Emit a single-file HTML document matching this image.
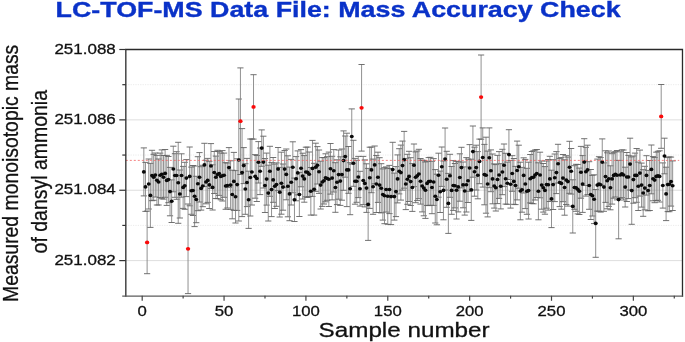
<!DOCTYPE html><html><head><meta charset="utf-8"><title>LC-TOF-MS Data File: Mass Accuracy Check</title>
<style>html,body{margin:0;padding:0;background:#fff}svg{display:block}text{font-family:"Liberation Sans",Arial,sans-serif}</style></head><body>
<svg width="685" height="342" viewBox="0 0 685 342">
<rect width="685" height="342" fill="#fff"/>
<text x="55.6" y="17.3" font-size="22.2" font-weight="bold" fill="#0a32c8" stroke="#0a32c8" stroke-width="0.35" textLength="565" lengthAdjust="spacingAndGlyphs">LC-TOF-MS Data File: Mass Accuracy Check</text>
<line x1="125.8" x2="682.5" y1="260.61" y2="260.61" stroke="#dedede" stroke-width="1"/>
<line x1="125.8" x2="682.5" y1="225.42" y2="225.42" stroke="#e6e6e6" stroke-width="0.8" stroke-dasharray="1.2 1.2"/>
<line x1="125.8" x2="682.5" y1="190.24" y2="190.24" stroke="#dedede" stroke-width="1"/>
<line x1="125.8" x2="682.5" y1="155.05" y2="155.05" stroke="#e6e6e6" stroke-width="0.8" stroke-dasharray="1.2 1.2"/>
<line x1="125.8" x2="682.5" y1="119.87" y2="119.87" stroke="#dedede" stroke-width="1"/>
<line x1="125.8" x2="682.5" y1="84.69" y2="84.69" stroke="#e6e6e6" stroke-width="0.8" stroke-dasharray="1.2 1.2"/>
<path d="M143.84 147.9V195.9" stroke="#858585" stroke-width="0.9" fill="none"/><path d="M140.74 147.9h6.2M140.74 195.9h6.2" stroke="#626262" stroke-width="0.9" fill="none"/>
<path d="M145.47 162.4V211.4" stroke="#858585" stroke-width="0.9" fill="none"/><path d="M142.37 162.4h6.2M142.37 211.4h6.2" stroke="#626262" stroke-width="0.9" fill="none"/>
<path d="M147.11 211.1V273.7" stroke="#858585" stroke-width="0.9" fill="none"/><path d="M144.01 211.1h6.2M144.01 273.7h6.2" stroke="#626262" stroke-width="0.9" fill="none"/>
<path d="M148.75 159.0V209.0" stroke="#858585" stroke-width="0.9" fill="none"/><path d="M145.65 159.0h6.2M145.65 209.0h6.2" stroke="#626262" stroke-width="0.9" fill="none"/>
<path d="M150.39 163.4V227.4" stroke="#858585" stroke-width="0.9" fill="none"/><path d="M147.29 163.4h6.2M147.29 227.4h6.2" stroke="#626262" stroke-width="0.9" fill="none"/>
<path d="M152.02 150.3V200.7" stroke="#858585" stroke-width="0.9" fill="none"/><path d="M148.92 150.3h6.2M148.92 200.7h6.2" stroke="#626262" stroke-width="0.9" fill="none"/>
<path d="M153.66 154.3V200.3" stroke="#858585" stroke-width="0.9" fill="none"/><path d="M150.56 154.3h6.2M150.56 200.3h6.2" stroke="#626262" stroke-width="0.9" fill="none"/>
<path d="M155.30 153.0V197.0" stroke="#858585" stroke-width="0.9" fill="none"/><path d="M152.20 153.0h6.2M152.20 197.0h6.2" stroke="#626262" stroke-width="0.9" fill="none"/>
<path d="M156.93 155.4V205.0" stroke="#858585" stroke-width="0.9" fill="none"/><path d="M153.83 155.4h6.2M153.83 205.0h6.2" stroke="#626262" stroke-width="0.9" fill="none"/>
<path d="M158.57 159.0V205.0" stroke="#858585" stroke-width="0.9" fill="none"/><path d="M155.47 159.0h6.2M155.47 205.0h6.2" stroke="#626262" stroke-width="0.9" fill="none"/>
<path d="M160.21 153.1V197.5" stroke="#858585" stroke-width="0.9" fill="none"/><path d="M157.11 153.1h6.2M157.11 197.5h6.2" stroke="#626262" stroke-width="0.9" fill="none"/>
<path d="M161.85 149.9V198.7" stroke="#858585" stroke-width="0.9" fill="none"/><path d="M158.75 149.9h6.2M158.75 198.7h6.2" stroke="#626262" stroke-width="0.9" fill="none"/>
<path d="M163.48 155.5V199.1" stroke="#858585" stroke-width="0.9" fill="none"/><path d="M160.38 155.5h6.2M160.38 199.1h6.2" stroke="#626262" stroke-width="0.9" fill="none"/>
<path d="M165.12 149.5V197.3" stroke="#858585" stroke-width="0.9" fill="none"/><path d="M162.02 149.5h6.2M162.02 197.3h6.2" stroke="#626262" stroke-width="0.9" fill="none"/>
<path d="M166.76 155.4V205.4" stroke="#858585" stroke-width="0.9" fill="none"/><path d="M163.66 155.4h6.2M163.66 205.4h6.2" stroke="#626262" stroke-width="0.9" fill="none"/>
<path d="M168.40 156.5V202.7" stroke="#858585" stroke-width="0.9" fill="none"/><path d="M165.30 156.5h6.2M165.30 202.7h6.2" stroke="#626262" stroke-width="0.9" fill="none"/>
<path d="M170.03 167.4V215.8" stroke="#858585" stroke-width="0.9" fill="none"/><path d="M166.93 167.4h6.2M166.93 215.8h6.2" stroke="#626262" stroke-width="0.9" fill="none"/>
<path d="M171.67 179.9V222.5" stroke="#858585" stroke-width="0.9" fill="none"/><path d="M168.57 179.9h6.2M168.57 222.5h6.2" stroke="#626262" stroke-width="0.9" fill="none"/>
<path d="M173.31 146.2V191.8" stroke="#858585" stroke-width="0.9" fill="none"/><path d="M170.21 146.2h6.2M170.21 191.8h6.2" stroke="#626262" stroke-width="0.9" fill="none"/>
<path d="M174.94 153.7V197.3" stroke="#858585" stroke-width="0.9" fill="none"/><path d="M171.84 153.7h6.2M171.84 197.3h6.2" stroke="#626262" stroke-width="0.9" fill="none"/>
<path d="M176.58 151.7V199.3" stroke="#858585" stroke-width="0.9" fill="none"/><path d="M173.48 151.7h6.2M173.48 199.3h6.2" stroke="#626262" stroke-width="0.9" fill="none"/>
<path d="M178.22 142.3V223.3" stroke="#858585" stroke-width="0.9" fill="none"/><path d="M175.12 142.3h6.2M175.12 223.3h6.2" stroke="#626262" stroke-width="0.9" fill="none"/>
<path d="M179.86 170.0V218.0" stroke="#858585" stroke-width="0.9" fill="none"/><path d="M176.76 170.0h6.2M176.76 218.0h6.2" stroke="#626262" stroke-width="0.9" fill="none"/>
<path d="M181.49 153.8V197.2" stroke="#858585" stroke-width="0.9" fill="none"/><path d="M178.39 153.8h6.2M178.39 197.2h6.2" stroke="#626262" stroke-width="0.9" fill="none"/>
<path d="M183.13 166.4V208.4" stroke="#858585" stroke-width="0.9" fill="none"/><path d="M180.03 166.4h6.2M180.03 208.4h6.2" stroke="#626262" stroke-width="0.9" fill="none"/>
<path d="M184.77 162.3V209.3" stroke="#858585" stroke-width="0.9" fill="none"/><path d="M181.67 162.3h6.2M181.67 209.3h6.2" stroke="#626262" stroke-width="0.9" fill="none"/>
<path d="M186.40 159.6V196.6" stroke="#858585" stroke-width="0.9" fill="none"/><path d="M183.30 159.6h6.2M183.30 196.6h6.2" stroke="#626262" stroke-width="0.9" fill="none"/>
<path d="M188.04 204.0V293.6" stroke="#858585" stroke-width="0.9" fill="none"/><path d="M184.94 204.0h6.2M184.94 293.6h6.2" stroke="#626262" stroke-width="0.9" fill="none"/>
<path d="M189.68 147.0V205.8" stroke="#858585" stroke-width="0.9" fill="none"/><path d="M186.58 147.0h6.2M186.58 205.8h6.2" stroke="#626262" stroke-width="0.9" fill="none"/>
<path d="M191.32 167.1V214.3" stroke="#858585" stroke-width="0.9" fill="none"/><path d="M188.22 167.1h6.2M188.22 214.3h6.2" stroke="#626262" stroke-width="0.9" fill="none"/>
<path d="M192.95 165.5V215.5" stroke="#858585" stroke-width="0.9" fill="none"/><path d="M189.85 165.5h6.2M189.85 215.5h6.2" stroke="#626262" stroke-width="0.9" fill="none"/>
<path d="M194.59 166.0V226.6" stroke="#858585" stroke-width="0.9" fill="none"/><path d="M191.49 166.0h6.2M191.49 226.6h6.2" stroke="#626262" stroke-width="0.9" fill="none"/>
<path d="M196.23 176.3V222.7" stroke="#858585" stroke-width="0.9" fill="none"/><path d="M193.13 176.3h6.2M193.13 222.7h6.2" stroke="#626262" stroke-width="0.9" fill="none"/>
<path d="M197.86 156.7V210.7" stroke="#858585" stroke-width="0.9" fill="none"/><path d="M194.76 156.7h6.2M194.76 210.7h6.2" stroke="#626262" stroke-width="0.9" fill="none"/>
<path d="M199.50 152.6V202.0" stroke="#858585" stroke-width="0.9" fill="none"/><path d="M196.40 152.6h6.2M196.40 202.0h6.2" stroke="#626262" stroke-width="0.9" fill="none"/>
<path d="M201.14 166.7V210.1" stroke="#858585" stroke-width="0.9" fill="none"/><path d="M198.04 166.7h6.2M198.04 210.1h6.2" stroke="#626262" stroke-width="0.9" fill="none"/>
<path d="M202.78 165.3V206.7" stroke="#858585" stroke-width="0.9" fill="none"/><path d="M199.68 165.3h6.2M199.68 206.7h6.2" stroke="#626262" stroke-width="0.9" fill="none"/>
<path d="M204.41 143.3V186.5" stroke="#858585" stroke-width="0.9" fill="none"/><path d="M201.31 143.3h6.2M201.31 186.5h6.2" stroke="#626262" stroke-width="0.9" fill="none"/>
<path d="M206.05 160.2V203.8" stroke="#858585" stroke-width="0.9" fill="none"/><path d="M202.95 160.2h6.2M202.95 203.8h6.2" stroke="#626262" stroke-width="0.9" fill="none"/>
<path d="M207.69 158.4V202.4" stroke="#858585" stroke-width="0.9" fill="none"/><path d="M204.59 158.4h6.2M204.59 202.4h6.2" stroke="#626262" stroke-width="0.9" fill="none"/>
<path d="M209.33 161.3V208.5" stroke="#858585" stroke-width="0.9" fill="none"/><path d="M206.23 161.3h6.2M206.23 208.5h6.2" stroke="#626262" stroke-width="0.9" fill="none"/>
<path d="M210.96 143.6V188.4" stroke="#858585" stroke-width="0.9" fill="none"/><path d="M207.86 143.6h6.2M207.86 188.4h6.2" stroke="#626262" stroke-width="0.9" fill="none"/>
<path d="M212.60 164.8V210.0" stroke="#858585" stroke-width="0.9" fill="none"/><path d="M209.50 164.8h6.2M209.50 210.0h6.2" stroke="#626262" stroke-width="0.9" fill="none"/>
<path d="M214.24 151.5V193.5" stroke="#858585" stroke-width="0.9" fill="none"/><path d="M211.14 151.5h6.2M211.14 193.5h6.2" stroke="#626262" stroke-width="0.9" fill="none"/>
<path d="M215.87 156.1V198.5" stroke="#858585" stroke-width="0.9" fill="none"/><path d="M212.77 156.1h6.2M212.77 198.5h6.2" stroke="#626262" stroke-width="0.9" fill="none"/>
<path d="M217.51 150.3V198.7" stroke="#858585" stroke-width="0.9" fill="none"/><path d="M214.41 150.3h6.2M214.41 198.7h6.2" stroke="#626262" stroke-width="0.9" fill="none"/>
<path d="M219.15 151.6V195.4" stroke="#858585" stroke-width="0.9" fill="none"/><path d="M216.05 151.6h6.2M216.05 195.4h6.2" stroke="#626262" stroke-width="0.9" fill="none"/>
<path d="M220.79 153.0V199.8" stroke="#858585" stroke-width="0.9" fill="none"/><path d="M217.69 153.0h6.2M217.69 199.8h6.2" stroke="#626262" stroke-width="0.9" fill="none"/>
<path d="M222.42 150.6V201.0" stroke="#858585" stroke-width="0.9" fill="none"/><path d="M219.32 150.6h6.2M219.32 201.0h6.2" stroke="#626262" stroke-width="0.9" fill="none"/>
<path d="M224.06 153.1V197.3" stroke="#858585" stroke-width="0.9" fill="none"/><path d="M220.96 153.1h6.2M220.96 197.3h6.2" stroke="#626262" stroke-width="0.9" fill="none"/>
<path d="M225.70 162.7V209.3" stroke="#858585" stroke-width="0.9" fill="none"/><path d="M222.60 162.7h6.2M222.60 209.3h6.2" stroke="#626262" stroke-width="0.9" fill="none"/>
<path d="M227.33 163.0V208.0" stroke="#858585" stroke-width="0.9" fill="none"/><path d="M224.23 163.0h6.2M224.23 208.0h6.2" stroke="#626262" stroke-width="0.9" fill="none"/>
<path d="M228.97 147.6V187.6" stroke="#858585" stroke-width="0.9" fill="none"/><path d="M225.87 147.6h6.2M225.87 187.6h6.2" stroke="#626262" stroke-width="0.9" fill="none"/>
<path d="M230.61 160.8V209.4" stroke="#858585" stroke-width="0.9" fill="none"/><path d="M227.51 160.8h6.2M227.51 209.4h6.2" stroke="#626262" stroke-width="0.9" fill="none"/>
<path d="M232.25 170.2V218.8" stroke="#858585" stroke-width="0.9" fill="none"/><path d="M229.15 170.2h6.2M229.15 218.8h6.2" stroke="#626262" stroke-width="0.9" fill="none"/>
<path d="M233.88 152.4V210.4" stroke="#858585" stroke-width="0.9" fill="none"/><path d="M230.78 152.4h6.2M230.78 210.4h6.2" stroke="#626262" stroke-width="0.9" fill="none"/>
<path d="M235.52 170.6V223.0" stroke="#858585" stroke-width="0.9" fill="none"/><path d="M232.42 170.6h6.2M232.42 223.0h6.2" stroke="#626262" stroke-width="0.9" fill="none"/>
<path d="M237.16 158.8V210.4" stroke="#858585" stroke-width="0.9" fill="none"/><path d="M234.06 158.8h6.2M234.06 210.4h6.2" stroke="#626262" stroke-width="0.9" fill="none"/>
<path d="M238.79 99.0V221.0" stroke="#858585" stroke-width="0.9" fill="none"/><path d="M235.69 99.0h6.2M235.69 221.0h6.2" stroke="#626262" stroke-width="0.9" fill="none"/>
<path d="M240.43 67.9V174.5" stroke="#858585" stroke-width="0.9" fill="none"/><path d="M237.33 67.9h6.2M237.33 174.5h6.2" stroke="#626262" stroke-width="0.9" fill="none"/>
<path d="M242.07 128.6V216.6" stroke="#858585" stroke-width="0.9" fill="none"/><path d="M238.97 128.6h6.2M238.97 216.6h6.2" stroke="#626262" stroke-width="0.9" fill="none"/>
<path d="M243.71 147.6V183.6" stroke="#858585" stroke-width="0.9" fill="none"/><path d="M240.61 147.6h6.2M240.61 183.6h6.2" stroke="#626262" stroke-width="0.9" fill="none"/>
<path d="M245.34 163.7V214.3" stroke="#858585" stroke-width="0.9" fill="none"/><path d="M242.24 163.7h6.2M242.24 214.3h6.2" stroke="#626262" stroke-width="0.9" fill="none"/>
<path d="M246.98 158.4V206.6" stroke="#858585" stroke-width="0.9" fill="none"/><path d="M243.88 158.4h6.2M243.88 206.6h6.2" stroke="#626262" stroke-width="0.9" fill="none"/>
<path d="M248.62 171.2V228.4" stroke="#858585" stroke-width="0.9" fill="none"/><path d="M245.52 171.2h6.2M245.52 228.4h6.2" stroke="#626262" stroke-width="0.9" fill="none"/>
<path d="M250.26 139.0V216.0" stroke="#858585" stroke-width="0.9" fill="none"/><path d="M247.16 139.0h6.2M247.16 216.0h6.2" stroke="#626262" stroke-width="0.9" fill="none"/>
<path d="M251.89 139.0V205.0" stroke="#858585" stroke-width="0.9" fill="none"/><path d="M248.79 139.0h6.2M248.79 205.0h6.2" stroke="#626262" stroke-width="0.9" fill="none"/>
<path d="M253.53 74.7V139.1" stroke="#858585" stroke-width="0.9" fill="none"/><path d="M250.43 74.7h6.2M250.43 139.1h6.2" stroke="#626262" stroke-width="0.9" fill="none"/>
<path d="M255.17 154.6V198.2" stroke="#858585" stroke-width="0.9" fill="none"/><path d="M252.07 154.6h6.2M252.07 198.2h6.2" stroke="#626262" stroke-width="0.9" fill="none"/>
<path d="M256.80 155.5V201.5" stroke="#858585" stroke-width="0.9" fill="none"/><path d="M253.70 155.5h6.2M253.70 201.5h6.2" stroke="#626262" stroke-width="0.9" fill="none"/>
<path d="M258.44 141.6V183.0" stroke="#858585" stroke-width="0.9" fill="none"/><path d="M255.34 141.6h6.2M255.34 183.0h6.2" stroke="#626262" stroke-width="0.9" fill="none"/>
<path d="M260.08 148.0V194.6" stroke="#858585" stroke-width="0.9" fill="none"/><path d="M256.98 148.0h6.2M256.98 194.6h6.2" stroke="#626262" stroke-width="0.9" fill="none"/>
<path d="M261.72 129.9V166.3" stroke="#858585" stroke-width="0.9" fill="none"/><path d="M258.62 129.9h6.2M258.62 166.3h6.2" stroke="#626262" stroke-width="0.9" fill="none"/>
<path d="M263.35 136.2V188.0" stroke="#858585" stroke-width="0.9" fill="none"/><path d="M260.25 136.2h6.2M260.25 188.0h6.2" stroke="#626262" stroke-width="0.9" fill="none"/>
<path d="M264.99 158.5V212.5" stroke="#858585" stroke-width="0.9" fill="none"/><path d="M261.89 158.5h6.2M261.89 212.5h6.2" stroke="#626262" stroke-width="0.9" fill="none"/>
<path d="M266.63 153.1V205.1" stroke="#858585" stroke-width="0.9" fill="none"/><path d="M263.53 153.1h6.2M263.53 205.1h6.2" stroke="#626262" stroke-width="0.9" fill="none"/>
<path d="M268.26 165.2V221.0" stroke="#858585" stroke-width="0.9" fill="none"/><path d="M265.16 165.2h6.2M265.16 221.0h6.2" stroke="#626262" stroke-width="0.9" fill="none"/>
<path d="M269.90 146.3V196.3" stroke="#858585" stroke-width="0.9" fill="none"/><path d="M266.80 146.3h6.2M266.80 196.3h6.2" stroke="#626262" stroke-width="0.9" fill="none"/>
<path d="M271.54 162.6V216.6" stroke="#858585" stroke-width="0.9" fill="none"/><path d="M268.44 162.6h6.2M268.44 216.6h6.2" stroke="#626262" stroke-width="0.9" fill="none"/>
<path d="M273.18 157.5V202.3" stroke="#858585" stroke-width="0.9" fill="none"/><path d="M270.08 157.5h6.2M270.08 202.3h6.2" stroke="#626262" stroke-width="0.9" fill="none"/>
<path d="M274.81 164.1V208.5" stroke="#858585" stroke-width="0.9" fill="none"/><path d="M271.71 164.1h6.2M271.71 208.5h6.2" stroke="#626262" stroke-width="0.9" fill="none"/>
<path d="M276.45 162.9V206.3" stroke="#858585" stroke-width="0.9" fill="none"/><path d="M273.35 162.9h6.2M273.35 206.3h6.2" stroke="#626262" stroke-width="0.9" fill="none"/>
<path d="M278.09 147.5V190.7" stroke="#858585" stroke-width="0.9" fill="none"/><path d="M274.99 147.5h6.2M274.99 190.7h6.2" stroke="#626262" stroke-width="0.9" fill="none"/>
<path d="M279.72 167.4V217.0" stroke="#858585" stroke-width="0.9" fill="none"/><path d="M276.62 167.4h6.2M276.62 217.0h6.2" stroke="#626262" stroke-width="0.9" fill="none"/>
<path d="M281.36 152.2V214.2" stroke="#858585" stroke-width="0.9" fill="none"/><path d="M278.26 152.2h6.2M278.26 214.2h6.2" stroke="#626262" stroke-width="0.9" fill="none"/>
<path d="M283.00 164.0V210.2" stroke="#858585" stroke-width="0.9" fill="none"/><path d="M279.90 164.0h6.2M279.90 210.2h6.2" stroke="#626262" stroke-width="0.9" fill="none"/>
<path d="M284.64 150.5V187.7" stroke="#858585" stroke-width="0.9" fill="none"/><path d="M281.54 150.5h6.2M281.54 187.7h6.2" stroke="#626262" stroke-width="0.9" fill="none"/>
<path d="M286.27 149.0V199.8" stroke="#858585" stroke-width="0.9" fill="none"/><path d="M283.17 149.0h6.2M283.17 199.8h6.2" stroke="#626262" stroke-width="0.9" fill="none"/>
<path d="M287.91 155.8V216.8" stroke="#858585" stroke-width="0.9" fill="none"/><path d="M284.81 155.8h6.2M284.81 216.8h6.2" stroke="#626262" stroke-width="0.9" fill="none"/>
<path d="M289.55 167.1V220.7" stroke="#858585" stroke-width="0.9" fill="none"/><path d="M286.45 167.1h6.2M286.45 220.7h6.2" stroke="#626262" stroke-width="0.9" fill="none"/>
<path d="M291.19 159.4V205.0" stroke="#858585" stroke-width="0.9" fill="none"/><path d="M288.09 159.4h6.2M288.09 205.0h6.2" stroke="#626262" stroke-width="0.9" fill="none"/>
<path d="M292.82 141.8V192.8" stroke="#858585" stroke-width="0.9" fill="none"/><path d="M289.72 141.8h6.2M289.72 192.8h6.2" stroke="#626262" stroke-width="0.9" fill="none"/>
<path d="M294.46 178.1V221.5" stroke="#858585" stroke-width="0.9" fill="none"/><path d="M291.36 178.1h6.2M291.36 221.5h6.2" stroke="#626262" stroke-width="0.9" fill="none"/>
<path d="M296.10 156.6V200.8" stroke="#858585" stroke-width="0.9" fill="none"/><path d="M293.00 156.6h6.2M293.00 200.8h6.2" stroke="#626262" stroke-width="0.9" fill="none"/>
<path d="M297.73 150.9V194.9" stroke="#858585" stroke-width="0.9" fill="none"/><path d="M294.63 150.9h6.2M294.63 194.9h6.2" stroke="#626262" stroke-width="0.9" fill="none"/>
<path d="M299.37 172.5V216.5" stroke="#858585" stroke-width="0.9" fill="none"/><path d="M296.27 172.5h6.2M296.27 216.5h6.2" stroke="#626262" stroke-width="0.9" fill="none"/>
<path d="M301.01 149.6V186.8" stroke="#858585" stroke-width="0.9" fill="none"/><path d="M297.91 149.6h6.2M297.91 186.8h6.2" stroke="#626262" stroke-width="0.9" fill="none"/>
<path d="M302.65 153.2V199.0" stroke="#858585" stroke-width="0.9" fill="none"/><path d="M299.55 153.2h6.2M299.55 199.0h6.2" stroke="#626262" stroke-width="0.9" fill="none"/>
<path d="M304.28 155.6V202.2" stroke="#858585" stroke-width="0.9" fill="none"/><path d="M301.18 155.6h6.2M301.18 202.2h6.2" stroke="#626262" stroke-width="0.9" fill="none"/>
<path d="M305.92 147.2V196.8" stroke="#858585" stroke-width="0.9" fill="none"/><path d="M302.82 147.2h6.2M302.82 196.8h6.2" stroke="#626262" stroke-width="0.9" fill="none"/>
<path d="M307.56 147.1V197.5" stroke="#858585" stroke-width="0.9" fill="none"/><path d="M304.46 147.1h6.2M304.46 197.5h6.2" stroke="#626262" stroke-width="0.9" fill="none"/>
<path d="M309.19 152.0V196.6" stroke="#858585" stroke-width="0.9" fill="none"/><path d="M306.09 152.0h6.2M306.09 196.6h6.2" stroke="#626262" stroke-width="0.9" fill="none"/>
<path d="M310.83 167.5V215.1" stroke="#858585" stroke-width="0.9" fill="none"/><path d="M307.73 167.5h6.2M307.73 215.1h6.2" stroke="#626262" stroke-width="0.9" fill="none"/>
<path d="M312.47 140.4V196.4" stroke="#858585" stroke-width="0.9" fill="none"/><path d="M309.37 140.4h6.2M309.37 196.4h6.2" stroke="#626262" stroke-width="0.9" fill="none"/>
<path d="M314.11 163.3V215.1" stroke="#858585" stroke-width="0.9" fill="none"/><path d="M311.01 163.3h6.2M311.01 215.1h6.2" stroke="#626262" stroke-width="0.9" fill="none"/>
<path d="M315.74 143.2V191.4" stroke="#858585" stroke-width="0.9" fill="none"/><path d="M312.64 143.2h6.2M312.64 191.4h6.2" stroke="#626262" stroke-width="0.9" fill="none"/>
<path d="M317.38 146.6V184.0" stroke="#858585" stroke-width="0.9" fill="none"/><path d="M314.28 146.6h6.2M314.28 184.0h6.2" stroke="#626262" stroke-width="0.9" fill="none"/>
<path d="M319.02 150.0V193.4" stroke="#858585" stroke-width="0.9" fill="none"/><path d="M315.92 150.0h6.2M315.92 193.4h6.2" stroke="#626262" stroke-width="0.9" fill="none"/>
<path d="M320.65 161.2V209.0" stroke="#858585" stroke-width="0.9" fill="none"/><path d="M317.55 161.2h6.2M317.55 209.0h6.2" stroke="#626262" stroke-width="0.9" fill="none"/>
<path d="M322.29 157.6V206.4" stroke="#858585" stroke-width="0.9" fill="none"/><path d="M319.19 157.6h6.2M319.19 206.4h6.2" stroke="#626262" stroke-width="0.9" fill="none"/>
<path d="M323.93 157.6V204.0" stroke="#858585" stroke-width="0.9" fill="none"/><path d="M320.83 157.6h6.2M320.83 204.0h6.2" stroke="#626262" stroke-width="0.9" fill="none"/>
<path d="M325.57 153.8V201.8" stroke="#858585" stroke-width="0.9" fill="none"/><path d="M322.47 153.8h6.2M322.47 201.8h6.2" stroke="#626262" stroke-width="0.9" fill="none"/>
<path d="M327.20 156.7V200.3" stroke="#858585" stroke-width="0.9" fill="none"/><path d="M324.10 156.7h6.2M324.10 200.3h6.2" stroke="#626262" stroke-width="0.9" fill="none"/>
<path d="M328.84 152.1V206.5" stroke="#858585" stroke-width="0.9" fill="none"/><path d="M325.74 152.1h6.2M325.74 206.5h6.2" stroke="#626262" stroke-width="0.9" fill="none"/>
<path d="M330.48 143.5V194.1" stroke="#858585" stroke-width="0.9" fill="none"/><path d="M327.38 143.5h6.2M327.38 194.1h6.2" stroke="#626262" stroke-width="0.9" fill="none"/>
<path d="M332.12 156.3V199.9" stroke="#858585" stroke-width="0.9" fill="none"/><path d="M329.02 156.3h6.2M329.02 199.9h6.2" stroke="#626262" stroke-width="0.9" fill="none"/>
<path d="M333.75 149.6V192.0" stroke="#858585" stroke-width="0.9" fill="none"/><path d="M330.65 149.6h6.2M330.65 192.0h6.2" stroke="#626262" stroke-width="0.9" fill="none"/>
<path d="M335.39 162.7V212.3" stroke="#858585" stroke-width="0.9" fill="none"/><path d="M332.29 162.7h6.2M332.29 212.3h6.2" stroke="#626262" stroke-width="0.9" fill="none"/>
<path d="M337.03 159.8V204.6" stroke="#858585" stroke-width="0.9" fill="none"/><path d="M333.93 159.8h6.2M333.93 204.6h6.2" stroke="#626262" stroke-width="0.9" fill="none"/>
<path d="M338.66 150.0V199.2" stroke="#858585" stroke-width="0.9" fill="none"/><path d="M335.56 150.0h6.2M335.56 199.2h6.2" stroke="#626262" stroke-width="0.9" fill="none"/>
<path d="M340.30 156.8V205.4" stroke="#858585" stroke-width="0.9" fill="none"/><path d="M337.20 156.8h6.2M337.20 205.4h6.2" stroke="#626262" stroke-width="0.9" fill="none"/>
<path d="M341.94 149.0V200.2" stroke="#858585" stroke-width="0.9" fill="none"/><path d="M338.84 149.0h6.2M338.84 200.2h6.2" stroke="#626262" stroke-width="0.9" fill="none"/>
<path d="M343.58 130.9V190.3" stroke="#858585" stroke-width="0.9" fill="none"/><path d="M340.48 130.9h6.2M340.48 190.3h6.2" stroke="#626262" stroke-width="0.9" fill="none"/>
<path d="M345.21 136.0V177.2" stroke="#858585" stroke-width="0.9" fill="none"/><path d="M342.11 136.0h6.2M342.11 177.2h6.2" stroke="#626262" stroke-width="0.9" fill="none"/>
<path d="M346.85 133.2V206.6" stroke="#858585" stroke-width="0.9" fill="none"/><path d="M343.75 133.2h6.2M343.75 206.6h6.2" stroke="#626262" stroke-width="0.9" fill="none"/>
<path d="M348.49 146.5V193.3" stroke="#858585" stroke-width="0.9" fill="none"/><path d="M345.39 146.5h6.2M345.39 193.3h6.2" stroke="#626262" stroke-width="0.9" fill="none"/>
<path d="M350.12 162.7V214.7" stroke="#858585" stroke-width="0.9" fill="none"/><path d="M347.02 162.7h6.2M347.02 214.7h6.2" stroke="#626262" stroke-width="0.9" fill="none"/>
<path d="M351.76 108.9V164.1" stroke="#858585" stroke-width="0.9" fill="none"/><path d="M348.66 108.9h6.2M348.66 164.1h6.2" stroke="#626262" stroke-width="0.9" fill="none"/>
<path d="M353.40 140.3V186.3" stroke="#858585" stroke-width="0.9" fill="none"/><path d="M350.30 140.3h6.2M350.30 186.3h6.2" stroke="#626262" stroke-width="0.9" fill="none"/>
<path d="M355.04 158.4V204.2" stroke="#858585" stroke-width="0.9" fill="none"/><path d="M351.94 158.4h6.2M351.94 204.2h6.2" stroke="#626262" stroke-width="0.9" fill="none"/>
<path d="M356.67 160.3V202.3" stroke="#858585" stroke-width="0.9" fill="none"/><path d="M353.57 160.3h6.2M353.57 202.3h6.2" stroke="#626262" stroke-width="0.9" fill="none"/>
<path d="M358.31 156.4V197.6" stroke="#858585" stroke-width="0.9" fill="none"/><path d="M355.21 156.4h6.2M355.21 197.6h6.2" stroke="#626262" stroke-width="0.9" fill="none"/>
<path d="M359.95 171.3V206.1" stroke="#858585" stroke-width="0.9" fill="none"/><path d="M356.85 171.3h6.2M356.85 206.1h6.2" stroke="#626262" stroke-width="0.9" fill="none"/>
<path d="M361.58 64.5V151.1" stroke="#858585" stroke-width="0.9" fill="none"/><path d="M358.48 64.5h6.2M358.48 151.1h6.2" stroke="#626262" stroke-width="0.9" fill="none"/>
<path d="M363.22 156.4V204.6" stroke="#858585" stroke-width="0.9" fill="none"/><path d="M360.12 156.4h6.2M360.12 204.6h6.2" stroke="#626262" stroke-width="0.9" fill="none"/>
<path d="M364.86 159.9V206.9" stroke="#858585" stroke-width="0.9" fill="none"/><path d="M361.76 159.9h6.2M361.76 206.9h6.2" stroke="#626262" stroke-width="0.9" fill="none"/>
<path d="M366.50 163.8V212.4" stroke="#858585" stroke-width="0.9" fill="none"/><path d="M363.40 163.8h6.2M363.40 212.4h6.2" stroke="#626262" stroke-width="0.9" fill="none"/>
<path d="M368.13 168.4V240.4" stroke="#858585" stroke-width="0.9" fill="none"/><path d="M365.03 168.4h6.2M365.03 240.4h6.2" stroke="#626262" stroke-width="0.9" fill="none"/>
<path d="M369.77 147.2V208.4" stroke="#858585" stroke-width="0.9" fill="none"/><path d="M366.67 147.2h6.2M366.67 208.4h6.2" stroke="#626262" stroke-width="0.9" fill="none"/>
<path d="M371.41 147.1V192.7" stroke="#858585" stroke-width="0.9" fill="none"/><path d="M368.31 147.1h6.2M368.31 192.7h6.2" stroke="#626262" stroke-width="0.9" fill="none"/>
<path d="M373.05 159.1V214.3" stroke="#858585" stroke-width="0.9" fill="none"/><path d="M369.95 159.1h6.2M369.95 214.3h6.2" stroke="#626262" stroke-width="0.9" fill="none"/>
<path d="M374.68 146.0V183.8" stroke="#858585" stroke-width="0.9" fill="none"/><path d="M371.58 146.0h6.2M371.58 183.8h6.2" stroke="#626262" stroke-width="0.9" fill="none"/>
<path d="M376.32 155.5V212.5" stroke="#858585" stroke-width="0.9" fill="none"/><path d="M373.22 155.5h6.2M373.22 212.5h6.2" stroke="#626262" stroke-width="0.9" fill="none"/>
<path d="M377.96 152.2V202.4" stroke="#858585" stroke-width="0.9" fill="none"/><path d="M374.86 152.2h6.2M374.86 202.4h6.2" stroke="#626262" stroke-width="0.9" fill="none"/>
<path d="M379.59 157.7V212.5" stroke="#858585" stroke-width="0.9" fill="none"/><path d="M376.49 157.7h6.2M376.49 212.5h6.2" stroke="#626262" stroke-width="0.9" fill="none"/>
<path d="M381.23 163.7V212.9" stroke="#858585" stroke-width="0.9" fill="none"/><path d="M378.13 163.7h6.2M378.13 212.9h6.2" stroke="#626262" stroke-width="0.9" fill="none"/>
<path d="M382.87 168.9V220.1" stroke="#858585" stroke-width="0.9" fill="none"/><path d="M379.77 168.9h6.2M379.77 220.1h6.2" stroke="#626262" stroke-width="0.9" fill="none"/>
<path d="M384.51 167.7V223.7" stroke="#858585" stroke-width="0.9" fill="none"/><path d="M381.41 167.7h6.2M381.41 223.7h6.2" stroke="#626262" stroke-width="0.9" fill="none"/>
<path d="M386.14 166.9V212.1" stroke="#858585" stroke-width="0.9" fill="none"/><path d="M383.04 166.9h6.2M383.04 212.1h6.2" stroke="#626262" stroke-width="0.9" fill="none"/>
<path d="M387.78 168.3V224.3" stroke="#858585" stroke-width="0.9" fill="none"/><path d="M384.68 168.3h6.2M384.68 224.3h6.2" stroke="#626262" stroke-width="0.9" fill="none"/>
<path d="M389.42 165.4V213.6" stroke="#858585" stroke-width="0.9" fill="none"/><path d="M386.32 165.4h6.2M386.32 213.6h6.2" stroke="#626262" stroke-width="0.9" fill="none"/>
<path d="M391.05 168.6V224.6" stroke="#858585" stroke-width="0.9" fill="none"/><path d="M387.95 168.6h6.2M387.95 224.6h6.2" stroke="#626262" stroke-width="0.9" fill="none"/>
<path d="M392.69 142.3V196.9" stroke="#858585" stroke-width="0.9" fill="none"/><path d="M389.59 142.3h6.2M389.59 196.9h6.2" stroke="#626262" stroke-width="0.9" fill="none"/>
<path d="M394.33 173.1V220.1" stroke="#858585" stroke-width="0.9" fill="none"/><path d="M391.23 173.1h6.2M391.23 220.1h6.2" stroke="#626262" stroke-width="0.9" fill="none"/>
<path d="M395.97 166.6V216.6" stroke="#858585" stroke-width="0.9" fill="none"/><path d="M392.87 166.6h6.2M392.87 216.6h6.2" stroke="#626262" stroke-width="0.9" fill="none"/>
<path d="M397.60 154.9V202.9" stroke="#858585" stroke-width="0.9" fill="none"/><path d="M394.50 154.9h6.2M394.50 202.9h6.2" stroke="#626262" stroke-width="0.9" fill="none"/>
<path d="M399.24 148.7V193.9" stroke="#858585" stroke-width="0.9" fill="none"/><path d="M396.14 148.7h6.2M396.14 193.9h6.2" stroke="#626262" stroke-width="0.9" fill="none"/>
<path d="M400.88 145.1V200.1" stroke="#858585" stroke-width="0.9" fill="none"/><path d="M397.78 145.1h6.2M397.78 200.1h6.2" stroke="#626262" stroke-width="0.9" fill="none"/>
<path d="M402.51 141.1V190.1" stroke="#858585" stroke-width="0.9" fill="none"/><path d="M399.41 141.1h6.2M399.41 190.1h6.2" stroke="#626262" stroke-width="0.9" fill="none"/>
<path d="M404.15 131.4V188.2" stroke="#858585" stroke-width="0.9" fill="none"/><path d="M401.05 131.4h6.2M401.05 188.2h6.2" stroke="#626262" stroke-width="0.9" fill="none"/>
<path d="M405.79 158.4V209.6" stroke="#858585" stroke-width="0.9" fill="none"/><path d="M402.69 158.4h6.2M402.69 209.6h6.2" stroke="#626262" stroke-width="0.9" fill="none"/>
<path d="M407.43 154.3V204.3" stroke="#858585" stroke-width="0.9" fill="none"/><path d="M404.33 154.3h6.2M404.33 204.3h6.2" stroke="#626262" stroke-width="0.9" fill="none"/>
<path d="M409.06 151.3V201.5" stroke="#858585" stroke-width="0.9" fill="none"/><path d="M405.96 151.3h6.2M405.96 201.5h6.2" stroke="#626262" stroke-width="0.9" fill="none"/>
<path d="M410.70 157.7V205.5" stroke="#858585" stroke-width="0.9" fill="none"/><path d="M407.60 157.7h6.2M407.60 205.5h6.2" stroke="#626262" stroke-width="0.9" fill="none"/>
<path d="M412.34 163.6V211.4" stroke="#858585" stroke-width="0.9" fill="none"/><path d="M409.24 163.6h6.2M409.24 211.4h6.2" stroke="#626262" stroke-width="0.9" fill="none"/>
<path d="M413.98 144.0V186.6" stroke="#858585" stroke-width="0.9" fill="none"/><path d="M410.88 144.0h6.2M410.88 186.6h6.2" stroke="#626262" stroke-width="0.9" fill="none"/>
<path d="M415.61 151.9V202.7" stroke="#858585" stroke-width="0.9" fill="none"/><path d="M412.51 151.9h6.2M412.51 202.7h6.2" stroke="#626262" stroke-width="0.9" fill="none"/>
<path d="M417.25 151.0V200.6" stroke="#858585" stroke-width="0.9" fill="none"/><path d="M414.15 151.0h6.2M414.15 200.6h6.2" stroke="#626262" stroke-width="0.9" fill="none"/>
<path d="M418.89 149.3V198.7" stroke="#858585" stroke-width="0.9" fill="none"/><path d="M415.79 149.3h6.2M415.79 198.7h6.2" stroke="#626262" stroke-width="0.9" fill="none"/>
<path d="M420.52 158.5V204.1" stroke="#858585" stroke-width="0.9" fill="none"/><path d="M417.42 158.5h6.2M417.42 204.1h6.2" stroke="#626262" stroke-width="0.9" fill="none"/>
<path d="M422.16 160.1V211.9" stroke="#858585" stroke-width="0.9" fill="none"/><path d="M419.06 160.1h6.2M419.06 211.9h6.2" stroke="#626262" stroke-width="0.9" fill="none"/>
<path d="M423.80 160.4V215.8" stroke="#858585" stroke-width="0.9" fill="none"/><path d="M420.70 160.4h6.2M420.70 215.8h6.2" stroke="#626262" stroke-width="0.9" fill="none"/>
<path d="M425.44 162.0V218.4" stroke="#858585" stroke-width="0.9" fill="none"/><path d="M422.34 162.0h6.2M422.34 218.4h6.2" stroke="#626262" stroke-width="0.9" fill="none"/>
<path d="M427.07 161.4V205.4" stroke="#858585" stroke-width="0.9" fill="none"/><path d="M423.97 161.4h6.2M423.97 205.4h6.2" stroke="#626262" stroke-width="0.9" fill="none"/>
<path d="M428.71 157.6V205.6" stroke="#858585" stroke-width="0.9" fill="none"/><path d="M425.61 157.6h6.2M425.61 205.6h6.2" stroke="#626262" stroke-width="0.9" fill="none"/>
<path d="M430.35 157.3V205.3" stroke="#858585" stroke-width="0.9" fill="none"/><path d="M427.25 157.3h6.2M427.25 205.3h6.2" stroke="#626262" stroke-width="0.9" fill="none"/>
<path d="M431.98 161.3V213.7" stroke="#858585" stroke-width="0.9" fill="none"/><path d="M428.88 161.3h6.2M428.88 213.7h6.2" stroke="#626262" stroke-width="0.9" fill="none"/>
<path d="M433.62 158.6V205.4" stroke="#858585" stroke-width="0.9" fill="none"/><path d="M430.52 158.6h6.2M430.52 205.4h6.2" stroke="#626262" stroke-width="0.9" fill="none"/>
<path d="M435.26 169.6V223.0" stroke="#858585" stroke-width="0.9" fill="none"/><path d="M432.16 169.6h6.2M432.16 223.0h6.2" stroke="#626262" stroke-width="0.9" fill="none"/>
<path d="M436.90 174.2V224.8" stroke="#858585" stroke-width="0.9" fill="none"/><path d="M433.80 174.2h6.2M433.80 224.8h6.2" stroke="#626262" stroke-width="0.9" fill="none"/>
<path d="M438.53 153.2V197.2" stroke="#858585" stroke-width="0.9" fill="none"/><path d="M435.43 153.2h6.2M435.43 197.2h6.2" stroke="#626262" stroke-width="0.9" fill="none"/>
<path d="M440.17 171.1V212.5" stroke="#858585" stroke-width="0.9" fill="none"/><path d="M437.07 171.1h6.2M437.07 212.5h6.2" stroke="#626262" stroke-width="0.9" fill="none"/>
<path d="M441.81 147.0V186.4" stroke="#858585" stroke-width="0.9" fill="none"/><path d="M438.71 147.0h6.2M438.71 186.4h6.2" stroke="#626262" stroke-width="0.9" fill="none"/>
<path d="M443.44 161.0V219.8" stroke="#858585" stroke-width="0.9" fill="none"/><path d="M440.34 161.0h6.2M440.34 219.8h6.2" stroke="#626262" stroke-width="0.9" fill="none"/>
<path d="M445.08 128.0V190.0" stroke="#858585" stroke-width="0.9" fill="none"/><path d="M441.98 128.0h6.2M441.98 190.0h6.2" stroke="#626262" stroke-width="0.9" fill="none"/>
<path d="M446.72 151.3V207.3" stroke="#858585" stroke-width="0.9" fill="none"/><path d="M443.62 151.3h6.2M443.62 207.3h6.2" stroke="#626262" stroke-width="0.9" fill="none"/>
<path d="M448.36 173.4V233.4" stroke="#858585" stroke-width="0.9" fill="none"/><path d="M445.26 173.4h6.2M445.26 233.4h6.2" stroke="#626262" stroke-width="0.9" fill="none"/>
<path d="M449.99 154.3V197.3" stroke="#858585" stroke-width="0.9" fill="none"/><path d="M446.89 154.3h6.2M446.89 197.3h6.2" stroke="#626262" stroke-width="0.9" fill="none"/>
<path d="M451.63 166.5V214.3" stroke="#858585" stroke-width="0.9" fill="none"/><path d="M448.53 166.5h6.2M448.53 214.3h6.2" stroke="#626262" stroke-width="0.9" fill="none"/>
<path d="M453.27 160.6V210.4" stroke="#858585" stroke-width="0.9" fill="none"/><path d="M450.17 160.6h6.2M450.17 210.4h6.2" stroke="#626262" stroke-width="0.9" fill="none"/>
<path d="M454.91 163.5V207.9" stroke="#858585" stroke-width="0.9" fill="none"/><path d="M451.81 163.5h6.2M451.81 207.9h6.2" stroke="#626262" stroke-width="0.9" fill="none"/>
<path d="M456.54 161.4V219.0" stroke="#858585" stroke-width="0.9" fill="none"/><path d="M453.44 161.4h6.2M453.44 219.0h6.2" stroke="#626262" stroke-width="0.9" fill="none"/>
<path d="M458.18 161.9V211.9" stroke="#858585" stroke-width="0.9" fill="none"/><path d="M455.08 161.9h6.2M455.08 211.9h6.2" stroke="#626262" stroke-width="0.9" fill="none"/>
<path d="M459.82 153.8V201.2" stroke="#858585" stroke-width="0.9" fill="none"/><path d="M456.72 153.8h6.2M456.72 201.2h6.2" stroke="#626262" stroke-width="0.9" fill="none"/>
<path d="M461.45 147.3V187.9" stroke="#858585" stroke-width="0.9" fill="none"/><path d="M458.35 147.3h6.2M458.35 187.9h6.2" stroke="#626262" stroke-width="0.9" fill="none"/>
<path d="M463.09 162.0V207.8" stroke="#858585" stroke-width="0.9" fill="none"/><path d="M459.99 162.0h6.2M459.99 207.8h6.2" stroke="#626262" stroke-width="0.9" fill="none"/>
<path d="M464.73 166.9V215.1" stroke="#858585" stroke-width="0.9" fill="none"/><path d="M461.63 166.9h6.2M461.63 215.1h6.2" stroke="#626262" stroke-width="0.9" fill="none"/>
<path d="M466.37 157.6V212.0" stroke="#858585" stroke-width="0.9" fill="none"/><path d="M463.27 157.6h6.2M463.27 212.0h6.2" stroke="#626262" stroke-width="0.9" fill="none"/>
<path d="M468.00 159.1V202.5" stroke="#858585" stroke-width="0.9" fill="none"/><path d="M464.90 159.1h6.2M464.90 202.5h6.2" stroke="#626262" stroke-width="0.9" fill="none"/>
<path d="M469.64 144.6V191.4" stroke="#858585" stroke-width="0.9" fill="none"/><path d="M466.54 144.6h6.2M466.54 191.4h6.2" stroke="#626262" stroke-width="0.9" fill="none"/>
<path d="M471.28 159.2V220.4" stroke="#858585" stroke-width="0.9" fill="none"/><path d="M468.18 159.2h6.2M468.18 220.4h6.2" stroke="#626262" stroke-width="0.9" fill="none"/>
<path d="M472.91 126.0V177.2" stroke="#858585" stroke-width="0.9" fill="none"/><path d="M469.81 126.0h6.2M469.81 177.2h6.2" stroke="#626262" stroke-width="0.9" fill="none"/>
<path d="M474.55 147.2V196.2" stroke="#858585" stroke-width="0.9" fill="none"/><path d="M471.45 147.2h6.2M471.45 196.2h6.2" stroke="#626262" stroke-width="0.9" fill="none"/>
<path d="M476.19 145.2V190.0" stroke="#858585" stroke-width="0.9" fill="none"/><path d="M473.09 145.2h6.2M473.09 190.0h6.2" stroke="#626262" stroke-width="0.9" fill="none"/>
<path d="M477.83 151.6V198.8" stroke="#858585" stroke-width="0.9" fill="none"/><path d="M474.73 151.6h6.2M474.73 198.8h6.2" stroke="#626262" stroke-width="0.9" fill="none"/>
<path d="M479.46 139.1V183.7" stroke="#858585" stroke-width="0.9" fill="none"/><path d="M476.36 139.1h6.2M476.36 183.7h6.2" stroke="#626262" stroke-width="0.9" fill="none"/>
<path d="M481.10 55.0V139.2" stroke="#858585" stroke-width="0.9" fill="none"/><path d="M478.00 55.0h6.2M478.00 139.2h6.2" stroke="#626262" stroke-width="0.9" fill="none"/>
<path d="M482.74 127.9V187.1" stroke="#858585" stroke-width="0.9" fill="none"/><path d="M479.64 127.9h6.2M479.64 187.1h6.2" stroke="#626262" stroke-width="0.9" fill="none"/>
<path d="M484.37 144.4V204.8" stroke="#858585" stroke-width="0.9" fill="none"/><path d="M481.27 144.4h6.2M481.27 204.8h6.2" stroke="#626262" stroke-width="0.9" fill="none"/>
<path d="M486.01 137.2V213.2" stroke="#858585" stroke-width="0.9" fill="none"/><path d="M482.91 137.2h6.2M482.91 213.2h6.2" stroke="#626262" stroke-width="0.9" fill="none"/>
<path d="M487.65 151.1V216.9" stroke="#858585" stroke-width="0.9" fill="none"/><path d="M484.55 151.1h6.2M484.55 216.9h6.2" stroke="#626262" stroke-width="0.9" fill="none"/>
<path d="M489.29 127.9V187.7" stroke="#858585" stroke-width="0.9" fill="none"/><path d="M486.19 127.9h6.2M486.19 187.7h6.2" stroke="#626262" stroke-width="0.9" fill="none"/>
<path d="M490.92 149.9V191.7" stroke="#858585" stroke-width="0.9" fill="none"/><path d="M487.82 149.9h6.2M487.82 191.7h6.2" stroke="#626262" stroke-width="0.9" fill="none"/>
<path d="M492.56 154.0V203.8" stroke="#858585" stroke-width="0.9" fill="none"/><path d="M489.46 154.0h6.2M489.46 203.8h6.2" stroke="#626262" stroke-width="0.9" fill="none"/>
<path d="M494.20 163.9V208.1" stroke="#858585" stroke-width="0.9" fill="none"/><path d="M491.10 163.9h6.2M491.10 208.1h6.2" stroke="#626262" stroke-width="0.9" fill="none"/>
<path d="M495.84 164.6V211.0" stroke="#858585" stroke-width="0.9" fill="none"/><path d="M492.74 164.6h6.2M492.74 211.0h6.2" stroke="#626262" stroke-width="0.9" fill="none"/>
<path d="M497.47 155.4V203.6" stroke="#858585" stroke-width="0.9" fill="none"/><path d="M494.37 155.4h6.2M494.37 203.6h6.2" stroke="#626262" stroke-width="0.9" fill="none"/>
<path d="M499.11 151.6V198.4" stroke="#858585" stroke-width="0.9" fill="none"/><path d="M496.01 151.6h6.2M496.01 198.4h6.2" stroke="#626262" stroke-width="0.9" fill="none"/>
<path d="M500.75 163.7V208.9" stroke="#858585" stroke-width="0.9" fill="none"/><path d="M497.65 163.7h6.2M497.65 208.9h6.2" stroke="#626262" stroke-width="0.9" fill="none"/>
<path d="M502.38 149.3V194.7" stroke="#858585" stroke-width="0.9" fill="none"/><path d="M499.28 149.3h6.2M499.28 194.7h6.2" stroke="#626262" stroke-width="0.9" fill="none"/>
<path d="M504.02 144.0V186.6" stroke="#858585" stroke-width="0.9" fill="none"/><path d="M500.92 144.0h6.2M500.92 186.6h6.2" stroke="#626262" stroke-width="0.9" fill="none"/>
<path d="M505.66 153.3V204.1" stroke="#858585" stroke-width="0.9" fill="none"/><path d="M502.56 153.3h6.2M502.56 204.1h6.2" stroke="#626262" stroke-width="0.9" fill="none"/>
<path d="M507.30 162.1V204.3" stroke="#858585" stroke-width="0.9" fill="none"/><path d="M504.20 162.1h6.2M504.20 204.3h6.2" stroke="#626262" stroke-width="0.9" fill="none"/>
<path d="M508.93 129.7V179.5" stroke="#858585" stroke-width="0.9" fill="none"/><path d="M505.83 129.7h6.2M505.83 179.5h6.2" stroke="#626262" stroke-width="0.9" fill="none"/>
<path d="M510.57 160.5V208.1" stroke="#858585" stroke-width="0.9" fill="none"/><path d="M507.47 160.5h6.2M507.47 208.1h6.2" stroke="#626262" stroke-width="0.9" fill="none"/>
<path d="M512.21 155.7V191.3" stroke="#858585" stroke-width="0.9" fill="none"/><path d="M509.11 155.7h6.2M509.11 191.3h6.2" stroke="#626262" stroke-width="0.9" fill="none"/>
<path d="M513.84 158.5V204.3" stroke="#858585" stroke-width="0.9" fill="none"/><path d="M510.74 158.5h6.2M510.74 204.3h6.2" stroke="#626262" stroke-width="0.9" fill="none"/>
<path d="M515.48 166.4V204.6" stroke="#858585" stroke-width="0.9" fill="none"/><path d="M512.38 166.4h6.2M512.38 204.6h6.2" stroke="#626262" stroke-width="0.9" fill="none"/>
<path d="M517.12 141.1V199.9" stroke="#858585" stroke-width="0.9" fill="none"/><path d="M514.02 141.1h6.2M514.02 199.9h6.2" stroke="#626262" stroke-width="0.9" fill="none"/>
<path d="M518.76 145.2V188.2" stroke="#858585" stroke-width="0.9" fill="none"/><path d="M515.66 145.2h6.2M515.66 188.2h6.2" stroke="#626262" stroke-width="0.9" fill="none"/>
<path d="M520.39 162.2V219.8" stroke="#858585" stroke-width="0.9" fill="none"/><path d="M517.29 162.2h6.2M517.29 219.8h6.2" stroke="#626262" stroke-width="0.9" fill="none"/>
<path d="M522.03 167.4V212.2" stroke="#858585" stroke-width="0.9" fill="none"/><path d="M518.93 167.4h6.2M518.93 212.2h6.2" stroke="#626262" stroke-width="0.9" fill="none"/>
<path d="M523.67 157.8V193.0" stroke="#858585" stroke-width="0.9" fill="none"/><path d="M520.57 157.8h6.2M520.57 193.0h6.2" stroke="#626262" stroke-width="0.9" fill="none"/>
<path d="M525.30 159.4V208.6" stroke="#858585" stroke-width="0.9" fill="none"/><path d="M522.20 159.4h6.2M522.20 208.6h6.2" stroke="#626262" stroke-width="0.9" fill="none"/>
<path d="M526.94 168.3V214.3" stroke="#858585" stroke-width="0.9" fill="none"/><path d="M523.84 168.3h6.2M523.84 214.3h6.2" stroke="#626262" stroke-width="0.9" fill="none"/>
<path d="M528.58 162.2V219.0" stroke="#858585" stroke-width="0.9" fill="none"/><path d="M525.48 162.2h6.2M525.48 219.0h6.2" stroke="#626262" stroke-width="0.9" fill="none"/>
<path d="M530.22 154.5V202.9" stroke="#858585" stroke-width="0.9" fill="none"/><path d="M527.12 154.5h6.2M527.12 202.9h6.2" stroke="#626262" stroke-width="0.9" fill="none"/>
<path d="M531.85 151.5V203.5" stroke="#858585" stroke-width="0.9" fill="none"/><path d="M528.75 151.5h6.2M528.75 203.5h6.2" stroke="#626262" stroke-width="0.9" fill="none"/>
<path d="M533.49 150.8V203.8" stroke="#858585" stroke-width="0.9" fill="none"/><path d="M530.39 150.8h6.2M530.39 203.8h6.2" stroke="#626262" stroke-width="0.9" fill="none"/>
<path d="M535.13 150.0V200.0" stroke="#858585" stroke-width="0.9" fill="none"/><path d="M532.03 150.0h6.2M532.03 200.0h6.2" stroke="#626262" stroke-width="0.9" fill="none"/>
<path d="M536.77 149.5V197.5" stroke="#858585" stroke-width="0.9" fill="none"/><path d="M533.67 149.5h6.2M533.67 197.5h6.2" stroke="#626262" stroke-width="0.9" fill="none"/>
<path d="M538.40 162.8V219.8" stroke="#858585" stroke-width="0.9" fill="none"/><path d="M535.30 162.8h6.2M535.30 219.8h6.2" stroke="#626262" stroke-width="0.9" fill="none"/>
<path d="M540.04 152.2V197.8" stroke="#858585" stroke-width="0.9" fill="none"/><path d="M536.94 152.2h6.2M536.94 197.8h6.2" stroke="#626262" stroke-width="0.9" fill="none"/>
<path d="M541.68 161.0V209.2" stroke="#858585" stroke-width="0.9" fill="none"/><path d="M538.58 161.0h6.2M538.58 209.2h6.2" stroke="#626262" stroke-width="0.9" fill="none"/>
<path d="M543.31 163.5V212.1" stroke="#858585" stroke-width="0.9" fill="none"/><path d="M540.21 163.5h6.2M540.21 212.1h6.2" stroke="#626262" stroke-width="0.9" fill="none"/>
<path d="M544.95 166.6V214.2" stroke="#858585" stroke-width="0.9" fill="none"/><path d="M541.85 166.6h6.2M541.85 214.2h6.2" stroke="#626262" stroke-width="0.9" fill="none"/>
<path d="M546.59 161.0V208.2" stroke="#858585" stroke-width="0.9" fill="none"/><path d="M543.49 161.0h6.2M543.49 208.2h6.2" stroke="#626262" stroke-width="0.9" fill="none"/>
<path d="M548.23 159.5V210.1" stroke="#858585" stroke-width="0.9" fill="none"/><path d="M545.13 159.5h6.2M545.13 210.1h6.2" stroke="#626262" stroke-width="0.9" fill="none"/>
<path d="M549.86 156.3V201.5" stroke="#858585" stroke-width="0.9" fill="none"/><path d="M546.76 156.3h6.2M546.76 201.5h6.2" stroke="#626262" stroke-width="0.9" fill="none"/>
<path d="M551.50 170.2V227.6" stroke="#858585" stroke-width="0.9" fill="none"/><path d="M548.40 170.2h6.2M548.40 227.6h6.2" stroke="#626262" stroke-width="0.9" fill="none"/>
<path d="M553.14 159.7V209.5" stroke="#858585" stroke-width="0.9" fill="none"/><path d="M550.04 159.7h6.2M550.04 209.5h6.2" stroke="#626262" stroke-width="0.9" fill="none"/>
<path d="M554.77 154.0V201.6" stroke="#858585" stroke-width="0.9" fill="none"/><path d="M551.67 154.0h6.2M551.67 201.6h6.2" stroke="#626262" stroke-width="0.9" fill="none"/>
<path d="M556.41 151.6V193.6" stroke="#858585" stroke-width="0.9" fill="none"/><path d="M553.31 151.6h6.2M553.31 193.6h6.2" stroke="#626262" stroke-width="0.9" fill="none"/>
<path d="M558.05 144.3V183.1" stroke="#858585" stroke-width="0.9" fill="none"/><path d="M554.95 144.3h6.2M554.95 183.1h6.2" stroke="#626262" stroke-width="0.9" fill="none"/>
<path d="M559.69 158.4V206.6" stroke="#858585" stroke-width="0.9" fill="none"/><path d="M556.59 158.4h6.2M556.59 206.6h6.2" stroke="#626262" stroke-width="0.9" fill="none"/>
<path d="M561.32 157.6V209.2" stroke="#858585" stroke-width="0.9" fill="none"/><path d="M558.22 157.6h6.2M558.22 209.2h6.2" stroke="#626262" stroke-width="0.9" fill="none"/>
<path d="M562.96 154.5V201.7" stroke="#858585" stroke-width="0.9" fill="none"/><path d="M559.86 154.5h6.2M559.86 201.7h6.2" stroke="#626262" stroke-width="0.9" fill="none"/>
<path d="M564.60 159.8V215.2" stroke="#858585" stroke-width="0.9" fill="none"/><path d="M561.50 159.8h6.2M561.50 215.2h6.2" stroke="#626262" stroke-width="0.9" fill="none"/>
<path d="M566.23 155.7V204.5" stroke="#858585" stroke-width="0.9" fill="none"/><path d="M563.13 155.7h6.2M563.13 204.5h6.2" stroke="#626262" stroke-width="0.9" fill="none"/>
<path d="M567.87 157.1V206.1" stroke="#858585" stroke-width="0.9" fill="none"/><path d="M564.77 157.1h6.2M564.77 206.1h6.2" stroke="#626262" stroke-width="0.9" fill="none"/>
<path d="M569.51 141.3V193.3" stroke="#858585" stroke-width="0.9" fill="none"/><path d="M566.41 141.3h6.2M566.41 193.3h6.2" stroke="#626262" stroke-width="0.9" fill="none"/>
<path d="M571.15 148.5V194.1" stroke="#858585" stroke-width="0.9" fill="none"/><path d="M568.05 148.5h6.2M568.05 194.1h6.2" stroke="#626262" stroke-width="0.9" fill="none"/>
<path d="M572.78 179.8V233.0" stroke="#858585" stroke-width="0.9" fill="none"/><path d="M569.68 179.8h6.2M569.68 233.0h6.2" stroke="#626262" stroke-width="0.9" fill="none"/>
<path d="M574.42 165.7V209.3" stroke="#858585" stroke-width="0.9" fill="none"/><path d="M571.32 165.7h6.2M571.32 209.3h6.2" stroke="#626262" stroke-width="0.9" fill="none"/>
<path d="M576.06 164.3V211.3" stroke="#858585" stroke-width="0.9" fill="none"/><path d="M572.96 164.3h6.2M572.96 211.3h6.2" stroke="#626262" stroke-width="0.9" fill="none"/>
<path d="M577.70 164.5V213.9" stroke="#858585" stroke-width="0.9" fill="none"/><path d="M574.60 164.5h6.2M574.60 213.9h6.2" stroke="#626262" stroke-width="0.9" fill="none"/>
<path d="M579.33 168.1V214.5" stroke="#858585" stroke-width="0.9" fill="none"/><path d="M576.23 168.1h6.2M576.23 214.5h6.2" stroke="#626262" stroke-width="0.9" fill="none"/>
<path d="M580.97 146.4V198.2" stroke="#858585" stroke-width="0.9" fill="none"/><path d="M577.87 146.4h6.2M577.87 198.2h6.2" stroke="#626262" stroke-width="0.9" fill="none"/>
<path d="M582.61 155.6V212.4" stroke="#858585" stroke-width="0.9" fill="none"/><path d="M579.51 155.6h6.2M579.51 212.4h6.2" stroke="#626262" stroke-width="0.9" fill="none"/>
<path d="M584.24 138.7V185.5" stroke="#858585" stroke-width="0.9" fill="none"/><path d="M581.14 138.7h6.2M581.14 185.5h6.2" stroke="#626262" stroke-width="0.9" fill="none"/>
<path d="M585.88 147.3V196.1" stroke="#858585" stroke-width="0.9" fill="none"/><path d="M582.78 147.3h6.2M582.78 196.1h6.2" stroke="#626262" stroke-width="0.9" fill="none"/>
<path d="M587.52 145.2V194.6" stroke="#858585" stroke-width="0.9" fill="none"/><path d="M584.42 145.2h6.2M584.42 194.6h6.2" stroke="#626262" stroke-width="0.9" fill="none"/>
<path d="M589.16 161.7V209.3" stroke="#858585" stroke-width="0.9" fill="none"/><path d="M586.06 161.7h6.2M586.06 209.3h6.2" stroke="#626262" stroke-width="0.9" fill="none"/>
<path d="M590.79 169.5V219.5" stroke="#858585" stroke-width="0.9" fill="none"/><path d="M587.69 169.5h6.2M587.69 219.5h6.2" stroke="#626262" stroke-width="0.9" fill="none"/>
<path d="M592.43 175.4V216.0" stroke="#858585" stroke-width="0.9" fill="none"/><path d="M589.33 175.4h6.2M589.33 216.0h6.2" stroke="#626262" stroke-width="0.9" fill="none"/>
<path d="M594.07 174.8V223.6" stroke="#858585" stroke-width="0.9" fill="none"/><path d="M590.97 174.8h6.2M590.97 223.6h6.2" stroke="#626262" stroke-width="0.9" fill="none"/>
<path d="M595.70 189.5V257.3" stroke="#858585" stroke-width="0.9" fill="none"/><path d="M592.60 189.5h6.2M592.60 257.3h6.2" stroke="#626262" stroke-width="0.9" fill="none"/>
<path d="M597.34 159.1V211.1" stroke="#858585" stroke-width="0.9" fill="none"/><path d="M594.24 159.1h6.2M594.24 211.1h6.2" stroke="#626262" stroke-width="0.9" fill="none"/>
<path d="M598.98 156.7V211.3" stroke="#858585" stroke-width="0.9" fill="none"/><path d="M595.88 156.7h6.2M595.88 211.3h6.2" stroke="#626262" stroke-width="0.9" fill="none"/>
<path d="M600.62 157.5V212.1" stroke="#858585" stroke-width="0.9" fill="none"/><path d="M597.52 157.5h6.2M597.52 212.1h6.2" stroke="#626262" stroke-width="0.9" fill="none"/>
<path d="M602.25 138.9V185.3" stroke="#858585" stroke-width="0.9" fill="none"/><path d="M599.15 138.9h6.2M599.15 185.3h6.2" stroke="#626262" stroke-width="0.9" fill="none"/>
<path d="M603.89 162.9V211.3" stroke="#858585" stroke-width="0.9" fill="none"/><path d="M600.79 162.9h6.2M600.79 211.3h6.2" stroke="#626262" stroke-width="0.9" fill="none"/>
<path d="M605.53 150.8V202.4" stroke="#858585" stroke-width="0.9" fill="none"/><path d="M602.43 150.8h6.2M602.43 202.4h6.2" stroke="#626262" stroke-width="0.9" fill="none"/>
<path d="M607.16 152.8V208.8" stroke="#858585" stroke-width="0.9" fill="none"/><path d="M604.06 152.8h6.2M604.06 208.8h6.2" stroke="#626262" stroke-width="0.9" fill="none"/>
<path d="M608.80 151.0V206.4" stroke="#858585" stroke-width="0.9" fill="none"/><path d="M605.70 151.0h6.2M605.70 206.4h6.2" stroke="#626262" stroke-width="0.9" fill="none"/>
<path d="M610.44 165.8V209.8" stroke="#858585" stroke-width="0.9" fill="none"/><path d="M607.34 165.8h6.2M607.34 209.8h6.2" stroke="#626262" stroke-width="0.9" fill="none"/>
<path d="M612.08 153.7V204.1" stroke="#858585" stroke-width="0.9" fill="none"/><path d="M608.98 153.7h6.2M608.98 204.1h6.2" stroke="#626262" stroke-width="0.9" fill="none"/>
<path d="M613.71 152.6V198.2" stroke="#858585" stroke-width="0.9" fill="none"/><path d="M610.61 152.6h6.2M610.61 198.2h6.2" stroke="#626262" stroke-width="0.9" fill="none"/>
<path d="M615.35 151.6V197.0" stroke="#858585" stroke-width="0.9" fill="none"/><path d="M612.25 151.6h6.2M612.25 197.0h6.2" stroke="#626262" stroke-width="0.9" fill="none"/>
<path d="M616.99 150.5V199.9" stroke="#858585" stroke-width="0.9" fill="none"/><path d="M613.89 150.5h6.2M613.89 199.9h6.2" stroke="#626262" stroke-width="0.9" fill="none"/>
<path d="M618.63 160.4V238.8" stroke="#858585" stroke-width="0.9" fill="none"/><path d="M615.53 160.4h6.2M615.53 238.8h6.2" stroke="#626262" stroke-width="0.9" fill="none"/>
<path d="M620.26 151.8V198.2" stroke="#858585" stroke-width="0.9" fill="none"/><path d="M617.16 151.8h6.2M617.16 198.2h6.2" stroke="#626262" stroke-width="0.9" fill="none"/>
<path d="M621.90 149.9V197.7" stroke="#858585" stroke-width="0.9" fill="none"/><path d="M618.80 149.9h6.2M618.80 197.7h6.2" stroke="#626262" stroke-width="0.9" fill="none"/>
<path d="M623.54 150.0V200.0" stroke="#858585" stroke-width="0.9" fill="none"/><path d="M620.44 150.0h6.2M620.44 200.0h6.2" stroke="#626262" stroke-width="0.9" fill="none"/>
<path d="M625.17 167.2V207.0" stroke="#858585" stroke-width="0.9" fill="none"/><path d="M622.07 167.2h6.2M622.07 207.0h6.2" stroke="#626262" stroke-width="0.9" fill="none"/>
<path d="M626.81 152.5V201.5" stroke="#858585" stroke-width="0.9" fill="none"/><path d="M623.71 152.5h6.2M623.71 201.5h6.2" stroke="#626262" stroke-width="0.9" fill="none"/>
<path d="M628.45 155.4V198.6" stroke="#858585" stroke-width="0.9" fill="none"/><path d="M625.35 155.4h6.2M625.35 198.6h6.2" stroke="#626262" stroke-width="0.9" fill="none"/>
<path d="M630.09 138.2V190.0" stroke="#858585" stroke-width="0.9" fill="none"/><path d="M626.99 138.2h6.2M626.99 190.0h6.2" stroke="#626262" stroke-width="0.9" fill="none"/>
<path d="M631.72 156.9V224.3" stroke="#858585" stroke-width="0.9" fill="none"/><path d="M628.62 156.9h6.2M628.62 224.3h6.2" stroke="#626262" stroke-width="0.9" fill="none"/>
<path d="M633.36 156.0V203.2" stroke="#858585" stroke-width="0.9" fill="none"/><path d="M630.26 156.0h6.2M630.26 203.2h6.2" stroke="#626262" stroke-width="0.9" fill="none"/>
<path d="M635.00 153.1V197.7" stroke="#858585" stroke-width="0.9" fill="none"/><path d="M631.90 153.1h6.2M631.90 197.7h6.2" stroke="#626262" stroke-width="0.9" fill="none"/>
<path d="M636.63 148.5V202.3" stroke="#858585" stroke-width="0.9" fill="none"/><path d="M633.53 148.5h6.2M633.53 202.3h6.2" stroke="#626262" stroke-width="0.9" fill="none"/>
<path d="M638.27 162.1V210.5" stroke="#858585" stroke-width="0.9" fill="none"/><path d="M635.17 162.1h6.2M635.17 210.5h6.2" stroke="#626262" stroke-width="0.9" fill="none"/>
<path d="M639.91 150.1V196.1" stroke="#858585" stroke-width="0.9" fill="none"/><path d="M636.81 150.1h6.2M636.81 196.1h6.2" stroke="#626262" stroke-width="0.9" fill="none"/>
<path d="M641.55 163.1V207.1" stroke="#858585" stroke-width="0.9" fill="none"/><path d="M638.45 163.1h6.2M638.45 207.1h6.2" stroke="#626262" stroke-width="0.9" fill="none"/>
<path d="M643.18 169.7V216.3" stroke="#858585" stroke-width="0.9" fill="none"/><path d="M640.08 169.7h6.2M640.08 216.3h6.2" stroke="#626262" stroke-width="0.9" fill="none"/>
<path d="M644.82 166.3V209.9" stroke="#858585" stroke-width="0.9" fill="none"/><path d="M641.72 166.3h6.2M641.72 209.9h6.2" stroke="#626262" stroke-width="0.9" fill="none"/>
<path d="M646.46 155.7V195.1" stroke="#858585" stroke-width="0.9" fill="none"/><path d="M643.36 155.7h6.2M643.36 195.1h6.2" stroke="#626262" stroke-width="0.9" fill="none"/>
<path d="M648.09 170.4V210.8" stroke="#858585" stroke-width="0.9" fill="none"/><path d="M644.99 170.4h6.2M644.99 210.8h6.2" stroke="#626262" stroke-width="0.9" fill="none"/>
<path d="M649.73 160.5V210.5" stroke="#858585" stroke-width="0.9" fill="none"/><path d="M646.63 160.5h6.2M646.63 210.5h6.2" stroke="#626262" stroke-width="0.9" fill="none"/>
<path d="M651.37 145.0V193.8" stroke="#858585" stroke-width="0.9" fill="none"/><path d="M648.27 145.0h6.2M648.27 193.8h6.2" stroke="#626262" stroke-width="0.9" fill="none"/>
<path d="M653.01 156.6V200.8" stroke="#858585" stroke-width="0.9" fill="none"/><path d="M649.91 156.6h6.2M649.91 200.8h6.2" stroke="#626262" stroke-width="0.9" fill="none"/>
<path d="M654.64 157.5V202.7" stroke="#858585" stroke-width="0.9" fill="none"/><path d="M651.54 157.5h6.2M651.54 202.7h6.2" stroke="#626262" stroke-width="0.9" fill="none"/>
<path d="M656.28 152.2V200.6" stroke="#858585" stroke-width="0.9" fill="none"/><path d="M653.18 152.2h6.2M653.18 200.6h6.2" stroke="#626262" stroke-width="0.9" fill="none"/>
<path d="M657.92 151.3V200.3" stroke="#858585" stroke-width="0.9" fill="none"/><path d="M654.82 151.3h6.2M654.82 200.3h6.2" stroke="#626262" stroke-width="0.9" fill="none"/>
<path d="M659.56 150.8V202.0" stroke="#858585" stroke-width="0.9" fill="none"/><path d="M656.46 150.8h6.2M656.46 202.0h6.2" stroke="#626262" stroke-width="0.9" fill="none"/>
<path d="M661.19 84.5V148.3" stroke="#858585" stroke-width="0.9" fill="none"/><path d="M658.09 84.5h6.2M658.09 148.3h6.2" stroke="#626262" stroke-width="0.9" fill="none"/>
<path d="M662.83 162.9V208.1" stroke="#858585" stroke-width="0.9" fill="none"/><path d="M659.73 162.9h6.2M659.73 208.1h6.2" stroke="#626262" stroke-width="0.9" fill="none"/>
<path d="M664.47 138.2V173.8" stroke="#858585" stroke-width="0.9" fill="none"/><path d="M661.37 138.2h6.2M661.37 173.8h6.2" stroke="#626262" stroke-width="0.9" fill="none"/>
<path d="M666.10 167.2V220.6" stroke="#858585" stroke-width="0.9" fill="none"/><path d="M663.00 167.2h6.2M663.00 220.6h6.2" stroke="#626262" stroke-width="0.9" fill="none"/>
<path d="M667.74 157.6V211.6" stroke="#858585" stroke-width="0.9" fill="none"/><path d="M664.64 157.6h6.2M664.64 211.6h6.2" stroke="#626262" stroke-width="0.9" fill="none"/>
<path d="M669.38 156.9V211.7" stroke="#858585" stroke-width="0.9" fill="none"/><path d="M666.28 156.9h6.2M666.28 211.7h6.2" stroke="#626262" stroke-width="0.9" fill="none"/>
<path d="M671.02 157.1V206.1" stroke="#858585" stroke-width="0.9" fill="none"/><path d="M667.92 157.1h6.2M667.92 206.1h6.2" stroke="#626262" stroke-width="0.9" fill="none"/>
<path d="M672.65 160.9V210.5" stroke="#858585" stroke-width="0.9" fill="none"/><path d="M669.55 160.9h6.2M669.55 210.5h6.2" stroke="#626262" stroke-width="0.9" fill="none"/>
<ellipse cx="143.84" cy="171.9" rx="2.0" ry="1.8" fill="#0a0a0a"/>
<ellipse cx="145.47" cy="186.9" rx="2.0" ry="1.8" fill="#0a0a0a"/>
<ellipse cx="147.11" cy="242.4" rx="2.15" ry="1.9" fill="#fa0a0a"/>
<ellipse cx="148.75" cy="184.0" rx="2.0" ry="1.8" fill="#0a0a0a"/>
<ellipse cx="150.39" cy="195.4" rx="2.0" ry="1.8" fill="#0a0a0a"/>
<ellipse cx="152.02" cy="175.5" rx="2.0" ry="1.8" fill="#0a0a0a"/>
<ellipse cx="153.66" cy="177.3" rx="2.0" ry="1.8" fill="#0a0a0a"/>
<ellipse cx="155.30" cy="175.0" rx="2.0" ry="1.8" fill="#0a0a0a"/>
<ellipse cx="156.93" cy="180.2" rx="2.0" ry="1.8" fill="#0a0a0a"/>
<ellipse cx="158.57" cy="182.0" rx="2.0" ry="1.8" fill="#0a0a0a"/>
<ellipse cx="160.21" cy="175.3" rx="2.0" ry="1.8" fill="#0a0a0a"/>
<ellipse cx="161.85" cy="174.3" rx="2.0" ry="1.8" fill="#0a0a0a"/>
<ellipse cx="163.48" cy="177.3" rx="2.0" ry="1.8" fill="#0a0a0a"/>
<ellipse cx="165.12" cy="173.4" rx="2.0" ry="1.8" fill="#0a0a0a"/>
<ellipse cx="166.76" cy="180.4" rx="2.0" ry="1.8" fill="#0a0a0a"/>
<ellipse cx="168.40" cy="179.6" rx="2.0" ry="1.8" fill="#0a0a0a"/>
<ellipse cx="170.03" cy="191.6" rx="2.0" ry="1.8" fill="#0a0a0a"/>
<ellipse cx="171.67" cy="201.2" rx="2.0" ry="1.8" fill="#0a0a0a"/>
<ellipse cx="173.31" cy="169.0" rx="2.0" ry="1.8" fill="#0a0a0a"/>
<ellipse cx="174.94" cy="175.5" rx="2.0" ry="1.8" fill="#0a0a0a"/>
<ellipse cx="176.58" cy="175.5" rx="2.0" ry="1.8" fill="#0a0a0a"/>
<ellipse cx="178.22" cy="182.8" rx="2.0" ry="1.8" fill="#0a0a0a"/>
<ellipse cx="179.86" cy="194.0" rx="2.0" ry="1.8" fill="#0a0a0a"/>
<ellipse cx="181.49" cy="175.5" rx="2.0" ry="1.8" fill="#0a0a0a"/>
<ellipse cx="183.13" cy="187.4" rx="2.0" ry="1.8" fill="#0a0a0a"/>
<ellipse cx="184.77" cy="185.8" rx="2.0" ry="1.8" fill="#0a0a0a"/>
<ellipse cx="186.40" cy="178.1" rx="2.0" ry="1.8" fill="#0a0a0a"/>
<ellipse cx="188.04" cy="248.8" rx="2.15" ry="1.9" fill="#fa0a0a"/>
<ellipse cx="189.68" cy="176.4" rx="2.0" ry="1.8" fill="#0a0a0a"/>
<ellipse cx="191.32" cy="190.7" rx="2.0" ry="1.8" fill="#0a0a0a"/>
<ellipse cx="192.95" cy="190.5" rx="2.0" ry="1.8" fill="#0a0a0a"/>
<ellipse cx="194.59" cy="196.3" rx="2.0" ry="1.8" fill="#0a0a0a"/>
<ellipse cx="196.23" cy="199.5" rx="2.0" ry="1.8" fill="#0a0a0a"/>
<ellipse cx="197.86" cy="183.7" rx="2.0" ry="1.8" fill="#0a0a0a"/>
<ellipse cx="199.50" cy="177.3" rx="2.0" ry="1.8" fill="#0a0a0a"/>
<ellipse cx="201.14" cy="188.4" rx="2.0" ry="1.8" fill="#0a0a0a"/>
<ellipse cx="202.78" cy="186.0" rx="2.0" ry="1.8" fill="#0a0a0a"/>
<ellipse cx="204.41" cy="164.9" rx="2.0" ry="1.8" fill="#0a0a0a"/>
<ellipse cx="206.05" cy="182.0" rx="2.0" ry="1.8" fill="#0a0a0a"/>
<ellipse cx="207.69" cy="180.4" rx="2.0" ry="1.8" fill="#0a0a0a"/>
<ellipse cx="209.33" cy="184.9" rx="2.0" ry="1.8" fill="#0a0a0a"/>
<ellipse cx="210.96" cy="166.0" rx="2.0" ry="1.8" fill="#0a0a0a"/>
<ellipse cx="212.60" cy="187.4" rx="2.0" ry="1.8" fill="#0a0a0a"/>
<ellipse cx="214.24" cy="172.5" rx="2.0" ry="1.8" fill="#0a0a0a"/>
<ellipse cx="215.87" cy="177.3" rx="2.0" ry="1.8" fill="#0a0a0a"/>
<ellipse cx="217.51" cy="174.5" rx="2.0" ry="1.8" fill="#0a0a0a"/>
<ellipse cx="219.15" cy="173.5" rx="2.0" ry="1.8" fill="#0a0a0a"/>
<ellipse cx="220.79" cy="176.4" rx="2.0" ry="1.8" fill="#0a0a0a"/>
<ellipse cx="222.42" cy="175.8" rx="2.0" ry="1.8" fill="#0a0a0a"/>
<ellipse cx="224.06" cy="175.2" rx="2.0" ry="1.8" fill="#0a0a0a"/>
<ellipse cx="225.70" cy="186.0" rx="2.0" ry="1.8" fill="#0a0a0a"/>
<ellipse cx="227.33" cy="185.5" rx="2.0" ry="1.8" fill="#0a0a0a"/>
<ellipse cx="228.97" cy="167.6" rx="2.0" ry="1.8" fill="#0a0a0a"/>
<ellipse cx="230.61" cy="185.1" rx="2.0" ry="1.8" fill="#0a0a0a"/>
<ellipse cx="232.25" cy="194.5" rx="2.0" ry="1.8" fill="#0a0a0a"/>
<ellipse cx="233.88" cy="181.4" rx="2.0" ry="1.8" fill="#0a0a0a"/>
<ellipse cx="235.52" cy="196.8" rx="2.0" ry="1.8" fill="#0a0a0a"/>
<ellipse cx="237.16" cy="184.6" rx="2.0" ry="1.8" fill="#0a0a0a"/>
<ellipse cx="238.79" cy="160.0" rx="2.0" ry="1.8" fill="#0a0a0a"/>
<ellipse cx="240.43" cy="121.2" rx="2.15" ry="1.9" fill="#fa0a0a"/>
<ellipse cx="242.07" cy="172.6" rx="2.0" ry="1.8" fill="#0a0a0a"/>
<ellipse cx="243.71" cy="165.6" rx="2.0" ry="1.8" fill="#0a0a0a"/>
<ellipse cx="245.34" cy="189.0" rx="2.0" ry="1.8" fill="#0a0a0a"/>
<ellipse cx="246.98" cy="182.5" rx="2.0" ry="1.8" fill="#0a0a0a"/>
<ellipse cx="248.62" cy="199.8" rx="2.0" ry="1.8" fill="#0a0a0a"/>
<ellipse cx="250.26" cy="177.5" rx="2.0" ry="1.8" fill="#0a0a0a"/>
<ellipse cx="251.89" cy="172.0" rx="2.0" ry="1.8" fill="#0a0a0a"/>
<ellipse cx="253.53" cy="106.9" rx="2.15" ry="1.9" fill="#fa0a0a"/>
<ellipse cx="255.17" cy="176.4" rx="2.0" ry="1.8" fill="#0a0a0a"/>
<ellipse cx="256.80" cy="178.5" rx="2.0" ry="1.8" fill="#0a0a0a"/>
<ellipse cx="258.44" cy="162.3" rx="2.0" ry="1.8" fill="#0a0a0a"/>
<ellipse cx="260.08" cy="171.3" rx="2.0" ry="1.8" fill="#0a0a0a"/>
<ellipse cx="261.72" cy="148.1" rx="2.0" ry="1.8" fill="#0a0a0a"/>
<ellipse cx="263.35" cy="162.1" rx="2.0" ry="1.8" fill="#0a0a0a"/>
<ellipse cx="264.99" cy="185.5" rx="2.0" ry="1.8" fill="#0a0a0a"/>
<ellipse cx="266.63" cy="179.1" rx="2.0" ry="1.8" fill="#0a0a0a"/>
<ellipse cx="268.26" cy="193.1" rx="2.0" ry="1.8" fill="#0a0a0a"/>
<ellipse cx="269.90" cy="171.3" rx="2.0" ry="1.8" fill="#0a0a0a"/>
<ellipse cx="271.54" cy="189.6" rx="2.0" ry="1.8" fill="#0a0a0a"/>
<ellipse cx="273.18" cy="179.9" rx="2.0" ry="1.8" fill="#0a0a0a"/>
<ellipse cx="274.81" cy="186.3" rx="2.0" ry="1.8" fill="#0a0a0a"/>
<ellipse cx="276.45" cy="184.6" rx="2.0" ry="1.8" fill="#0a0a0a"/>
<ellipse cx="278.09" cy="169.1" rx="2.0" ry="1.8" fill="#0a0a0a"/>
<ellipse cx="279.72" cy="192.2" rx="2.0" ry="1.8" fill="#0a0a0a"/>
<ellipse cx="281.36" cy="183.2" rx="2.0" ry="1.8" fill="#0a0a0a"/>
<ellipse cx="283.00" cy="187.1" rx="2.0" ry="1.8" fill="#0a0a0a"/>
<ellipse cx="284.64" cy="169.1" rx="2.0" ry="1.8" fill="#0a0a0a"/>
<ellipse cx="286.27" cy="174.4" rx="2.0" ry="1.8" fill="#0a0a0a"/>
<ellipse cx="287.91" cy="186.3" rx="2.0" ry="1.8" fill="#0a0a0a"/>
<ellipse cx="289.55" cy="193.9" rx="2.0" ry="1.8" fill="#0a0a0a"/>
<ellipse cx="291.19" cy="182.2" rx="2.0" ry="1.8" fill="#0a0a0a"/>
<ellipse cx="292.82" cy="167.3" rx="2.0" ry="1.8" fill="#0a0a0a"/>
<ellipse cx="294.46" cy="199.8" rx="2.0" ry="1.8" fill="#0a0a0a"/>
<ellipse cx="296.10" cy="178.7" rx="2.0" ry="1.8" fill="#0a0a0a"/>
<ellipse cx="297.73" cy="172.9" rx="2.0" ry="1.8" fill="#0a0a0a"/>
<ellipse cx="299.37" cy="194.5" rx="2.0" ry="1.8" fill="#0a0a0a"/>
<ellipse cx="301.01" cy="168.2" rx="2.0" ry="1.8" fill="#0a0a0a"/>
<ellipse cx="302.65" cy="176.1" rx="2.0" ry="1.8" fill="#0a0a0a"/>
<ellipse cx="304.28" cy="178.9" rx="2.0" ry="1.8" fill="#0a0a0a"/>
<ellipse cx="305.92" cy="172.0" rx="2.0" ry="1.8" fill="#0a0a0a"/>
<ellipse cx="307.56" cy="172.3" rx="2.0" ry="1.8" fill="#0a0a0a"/>
<ellipse cx="309.19" cy="174.3" rx="2.0" ry="1.8" fill="#0a0a0a"/>
<ellipse cx="310.83" cy="191.3" rx="2.0" ry="1.8" fill="#0a0a0a"/>
<ellipse cx="312.47" cy="168.4" rx="2.0" ry="1.8" fill="#0a0a0a"/>
<ellipse cx="314.11" cy="189.2" rx="2.0" ry="1.8" fill="#0a0a0a"/>
<ellipse cx="315.74" cy="167.3" rx="2.0" ry="1.8" fill="#0a0a0a"/>
<ellipse cx="317.38" cy="165.3" rx="2.0" ry="1.8" fill="#0a0a0a"/>
<ellipse cx="319.02" cy="171.7" rx="2.0" ry="1.8" fill="#0a0a0a"/>
<ellipse cx="320.65" cy="185.1" rx="2.0" ry="1.8" fill="#0a0a0a"/>
<ellipse cx="322.29" cy="182.0" rx="2.0" ry="1.8" fill="#0a0a0a"/>
<ellipse cx="323.93" cy="180.8" rx="2.0" ry="1.8" fill="#0a0a0a"/>
<ellipse cx="325.57" cy="177.8" rx="2.0" ry="1.8" fill="#0a0a0a"/>
<ellipse cx="327.20" cy="178.5" rx="2.0" ry="1.8" fill="#0a0a0a"/>
<ellipse cx="328.84" cy="179.3" rx="2.0" ry="1.8" fill="#0a0a0a"/>
<ellipse cx="330.48" cy="168.8" rx="2.0" ry="1.8" fill="#0a0a0a"/>
<ellipse cx="332.12" cy="178.1" rx="2.0" ry="1.8" fill="#0a0a0a"/>
<ellipse cx="333.75" cy="170.8" rx="2.0" ry="1.8" fill="#0a0a0a"/>
<ellipse cx="335.39" cy="187.5" rx="2.0" ry="1.8" fill="#0a0a0a"/>
<ellipse cx="337.03" cy="182.2" rx="2.0" ry="1.8" fill="#0a0a0a"/>
<ellipse cx="338.66" cy="174.6" rx="2.0" ry="1.8" fill="#0a0a0a"/>
<ellipse cx="340.30" cy="181.1" rx="2.0" ry="1.8" fill="#0a0a0a"/>
<ellipse cx="341.94" cy="174.6" rx="2.0" ry="1.8" fill="#0a0a0a"/>
<ellipse cx="343.58" cy="160.6" rx="2.0" ry="1.8" fill="#0a0a0a"/>
<ellipse cx="345.21" cy="156.6" rx="2.0" ry="1.8" fill="#0a0a0a"/>
<ellipse cx="346.85" cy="169.9" rx="2.0" ry="1.8" fill="#0a0a0a"/>
<ellipse cx="348.49" cy="169.9" rx="2.0" ry="1.8" fill="#0a0a0a"/>
<ellipse cx="350.12" cy="188.7" rx="2.0" ry="1.8" fill="#0a0a0a"/>
<ellipse cx="351.76" cy="136.5" rx="2.0" ry="1.8" fill="#0a0a0a"/>
<ellipse cx="353.40" cy="163.3" rx="2.0" ry="1.8" fill="#0a0a0a"/>
<ellipse cx="355.04" cy="181.3" rx="2.0" ry="1.8" fill="#0a0a0a"/>
<ellipse cx="356.67" cy="181.3" rx="2.0" ry="1.8" fill="#0a0a0a"/>
<ellipse cx="358.31" cy="177.0" rx="2.0" ry="1.8" fill="#0a0a0a"/>
<ellipse cx="359.95" cy="188.7" rx="2.0" ry="1.8" fill="#0a0a0a"/>
<ellipse cx="361.58" cy="107.8" rx="2.15" ry="1.9" fill="#fa0a0a"/>
<ellipse cx="363.22" cy="180.5" rx="2.0" ry="1.8" fill="#0a0a0a"/>
<ellipse cx="364.86" cy="183.4" rx="2.0" ry="1.8" fill="#0a0a0a"/>
<ellipse cx="366.50" cy="188.1" rx="2.0" ry="1.8" fill="#0a0a0a"/>
<ellipse cx="368.13" cy="204.4" rx="2.0" ry="1.8" fill="#0a0a0a"/>
<ellipse cx="369.77" cy="177.8" rx="2.0" ry="1.8" fill="#0a0a0a"/>
<ellipse cx="371.41" cy="169.9" rx="2.0" ry="1.8" fill="#0a0a0a"/>
<ellipse cx="373.05" cy="186.7" rx="2.0" ry="1.8" fill="#0a0a0a"/>
<ellipse cx="374.68" cy="164.9" rx="2.0" ry="1.8" fill="#0a0a0a"/>
<ellipse cx="376.32" cy="184.0" rx="2.0" ry="1.8" fill="#0a0a0a"/>
<ellipse cx="377.96" cy="177.3" rx="2.0" ry="1.8" fill="#0a0a0a"/>
<ellipse cx="379.59" cy="185.1" rx="2.0" ry="1.8" fill="#0a0a0a"/>
<ellipse cx="381.23" cy="188.3" rx="2.0" ry="1.8" fill="#0a0a0a"/>
<ellipse cx="382.87" cy="194.5" rx="2.0" ry="1.8" fill="#0a0a0a"/>
<ellipse cx="384.51" cy="195.7" rx="2.0" ry="1.8" fill="#0a0a0a"/>
<ellipse cx="386.14" cy="189.5" rx="2.0" ry="1.8" fill="#0a0a0a"/>
<ellipse cx="387.78" cy="196.3" rx="2.0" ry="1.8" fill="#0a0a0a"/>
<ellipse cx="389.42" cy="189.5" rx="2.0" ry="1.8" fill="#0a0a0a"/>
<ellipse cx="391.05" cy="196.6" rx="2.0" ry="1.8" fill="#0a0a0a"/>
<ellipse cx="392.69" cy="169.6" rx="2.0" ry="1.8" fill="#0a0a0a"/>
<ellipse cx="394.33" cy="196.6" rx="2.0" ry="1.8" fill="#0a0a0a"/>
<ellipse cx="395.97" cy="191.6" rx="2.0" ry="1.8" fill="#0a0a0a"/>
<ellipse cx="397.60" cy="178.9" rx="2.0" ry="1.8" fill="#0a0a0a"/>
<ellipse cx="399.24" cy="171.3" rx="2.0" ry="1.8" fill="#0a0a0a"/>
<ellipse cx="400.88" cy="172.6" rx="2.0" ry="1.8" fill="#0a0a0a"/>
<ellipse cx="402.51" cy="165.6" rx="2.0" ry="1.8" fill="#0a0a0a"/>
<ellipse cx="404.15" cy="159.8" rx="2.0" ry="1.8" fill="#0a0a0a"/>
<ellipse cx="405.79" cy="184.0" rx="2.0" ry="1.8" fill="#0a0a0a"/>
<ellipse cx="407.43" cy="179.3" rx="2.0" ry="1.8" fill="#0a0a0a"/>
<ellipse cx="409.06" cy="176.4" rx="2.0" ry="1.8" fill="#0a0a0a"/>
<ellipse cx="410.70" cy="181.6" rx="2.0" ry="1.8" fill="#0a0a0a"/>
<ellipse cx="412.34" cy="187.5" rx="2.0" ry="1.8" fill="#0a0a0a"/>
<ellipse cx="413.98" cy="165.3" rx="2.0" ry="1.8" fill="#0a0a0a"/>
<ellipse cx="415.61" cy="177.3" rx="2.0" ry="1.8" fill="#0a0a0a"/>
<ellipse cx="417.25" cy="175.8" rx="2.0" ry="1.8" fill="#0a0a0a"/>
<ellipse cx="418.89" cy="174.0" rx="2.0" ry="1.8" fill="#0a0a0a"/>
<ellipse cx="420.52" cy="181.3" rx="2.0" ry="1.8" fill="#0a0a0a"/>
<ellipse cx="422.16" cy="186.0" rx="2.0" ry="1.8" fill="#0a0a0a"/>
<ellipse cx="423.80" cy="188.1" rx="2.0" ry="1.8" fill="#0a0a0a"/>
<ellipse cx="425.44" cy="190.2" rx="2.0" ry="1.8" fill="#0a0a0a"/>
<ellipse cx="427.07" cy="183.4" rx="2.0" ry="1.8" fill="#0a0a0a"/>
<ellipse cx="428.71" cy="181.6" rx="2.0" ry="1.8" fill="#0a0a0a"/>
<ellipse cx="430.35" cy="181.3" rx="2.0" ry="1.8" fill="#0a0a0a"/>
<ellipse cx="431.98" cy="187.5" rx="2.0" ry="1.8" fill="#0a0a0a"/>
<ellipse cx="433.62" cy="182.0" rx="2.0" ry="1.8" fill="#0a0a0a"/>
<ellipse cx="435.26" cy="196.3" rx="2.0" ry="1.8" fill="#0a0a0a"/>
<ellipse cx="436.90" cy="199.5" rx="2.0" ry="1.8" fill="#0a0a0a"/>
<ellipse cx="438.53" cy="175.2" rx="2.0" ry="1.8" fill="#0a0a0a"/>
<ellipse cx="440.17" cy="191.8" rx="2.0" ry="1.8" fill="#0a0a0a"/>
<ellipse cx="441.81" cy="166.7" rx="2.0" ry="1.8" fill="#0a0a0a"/>
<ellipse cx="443.44" cy="190.4" rx="2.0" ry="1.8" fill="#0a0a0a"/>
<ellipse cx="445.08" cy="159.0" rx="2.0" ry="1.8" fill="#0a0a0a"/>
<ellipse cx="446.72" cy="179.3" rx="2.0" ry="1.8" fill="#0a0a0a"/>
<ellipse cx="448.36" cy="203.4" rx="2.0" ry="1.8" fill="#0a0a0a"/>
<ellipse cx="449.99" cy="175.8" rx="2.0" ry="1.8" fill="#0a0a0a"/>
<ellipse cx="451.63" cy="190.4" rx="2.0" ry="1.8" fill="#0a0a0a"/>
<ellipse cx="453.27" cy="185.5" rx="2.0" ry="1.8" fill="#0a0a0a"/>
<ellipse cx="454.91" cy="185.7" rx="2.0" ry="1.8" fill="#0a0a0a"/>
<ellipse cx="456.54" cy="190.2" rx="2.0" ry="1.8" fill="#0a0a0a"/>
<ellipse cx="458.18" cy="186.9" rx="2.0" ry="1.8" fill="#0a0a0a"/>
<ellipse cx="459.82" cy="177.5" rx="2.0" ry="1.8" fill="#0a0a0a"/>
<ellipse cx="461.45" cy="167.6" rx="2.0" ry="1.8" fill="#0a0a0a"/>
<ellipse cx="463.09" cy="184.9" rx="2.0" ry="1.8" fill="#0a0a0a"/>
<ellipse cx="464.73" cy="191.0" rx="2.0" ry="1.8" fill="#0a0a0a"/>
<ellipse cx="466.37" cy="184.8" rx="2.0" ry="1.8" fill="#0a0a0a"/>
<ellipse cx="468.00" cy="180.8" rx="2.0" ry="1.8" fill="#0a0a0a"/>
<ellipse cx="469.64" cy="168.0" rx="2.0" ry="1.8" fill="#0a0a0a"/>
<ellipse cx="471.28" cy="189.8" rx="2.0" ry="1.8" fill="#0a0a0a"/>
<ellipse cx="472.91" cy="151.6" rx="2.0" ry="1.8" fill="#0a0a0a"/>
<ellipse cx="474.55" cy="171.7" rx="2.0" ry="1.8" fill="#0a0a0a"/>
<ellipse cx="476.19" cy="167.6" rx="2.0" ry="1.8" fill="#0a0a0a"/>
<ellipse cx="477.83" cy="175.2" rx="2.0" ry="1.8" fill="#0a0a0a"/>
<ellipse cx="479.46" cy="161.4" rx="2.0" ry="1.8" fill="#0a0a0a"/>
<ellipse cx="481.10" cy="97.1" rx="2.15" ry="1.9" fill="#fa0a0a"/>
<ellipse cx="482.74" cy="157.5" rx="2.0" ry="1.8" fill="#0a0a0a"/>
<ellipse cx="484.37" cy="174.6" rx="2.0" ry="1.8" fill="#0a0a0a"/>
<ellipse cx="486.01" cy="175.2" rx="2.0" ry="1.8" fill="#0a0a0a"/>
<ellipse cx="487.65" cy="184.0" rx="2.0" ry="1.8" fill="#0a0a0a"/>
<ellipse cx="489.29" cy="157.8" rx="2.0" ry="1.8" fill="#0a0a0a"/>
<ellipse cx="490.92" cy="170.8" rx="2.0" ry="1.8" fill="#0a0a0a"/>
<ellipse cx="492.56" cy="178.9" rx="2.0" ry="1.8" fill="#0a0a0a"/>
<ellipse cx="494.20" cy="186.0" rx="2.0" ry="1.8" fill="#0a0a0a"/>
<ellipse cx="495.84" cy="187.8" rx="2.0" ry="1.8" fill="#0a0a0a"/>
<ellipse cx="497.47" cy="179.5" rx="2.0" ry="1.8" fill="#0a0a0a"/>
<ellipse cx="499.11" cy="175.0" rx="2.0" ry="1.8" fill="#0a0a0a"/>
<ellipse cx="500.75" cy="186.3" rx="2.0" ry="1.8" fill="#0a0a0a"/>
<ellipse cx="502.38" cy="172.0" rx="2.0" ry="1.8" fill="#0a0a0a"/>
<ellipse cx="504.02" cy="165.3" rx="2.0" ry="1.8" fill="#0a0a0a"/>
<ellipse cx="505.66" cy="178.7" rx="2.0" ry="1.8" fill="#0a0a0a"/>
<ellipse cx="507.30" cy="183.2" rx="2.0" ry="1.8" fill="#0a0a0a"/>
<ellipse cx="508.93" cy="154.6" rx="2.0" ry="1.8" fill="#0a0a0a"/>
<ellipse cx="510.57" cy="184.3" rx="2.0" ry="1.8" fill="#0a0a0a"/>
<ellipse cx="512.21" cy="173.5" rx="2.0" ry="1.8" fill="#0a0a0a"/>
<ellipse cx="513.84" cy="181.4" rx="2.0" ry="1.8" fill="#0a0a0a"/>
<ellipse cx="515.48" cy="185.5" rx="2.0" ry="1.8" fill="#0a0a0a"/>
<ellipse cx="517.12" cy="170.5" rx="2.0" ry="1.8" fill="#0a0a0a"/>
<ellipse cx="518.76" cy="166.7" rx="2.0" ry="1.8" fill="#0a0a0a"/>
<ellipse cx="520.39" cy="191.0" rx="2.0" ry="1.8" fill="#0a0a0a"/>
<ellipse cx="522.03" cy="189.8" rx="2.0" ry="1.8" fill="#0a0a0a"/>
<ellipse cx="523.67" cy="175.4" rx="2.0" ry="1.8" fill="#0a0a0a"/>
<ellipse cx="525.30" cy="184.0" rx="2.0" ry="1.8" fill="#0a0a0a"/>
<ellipse cx="526.94" cy="191.3" rx="2.0" ry="1.8" fill="#0a0a0a"/>
<ellipse cx="528.58" cy="190.6" rx="2.0" ry="1.8" fill="#0a0a0a"/>
<ellipse cx="530.22" cy="178.7" rx="2.0" ry="1.8" fill="#0a0a0a"/>
<ellipse cx="531.85" cy="177.5" rx="2.0" ry="1.8" fill="#0a0a0a"/>
<ellipse cx="533.49" cy="177.3" rx="2.0" ry="1.8" fill="#0a0a0a"/>
<ellipse cx="535.13" cy="175.0" rx="2.0" ry="1.8" fill="#0a0a0a"/>
<ellipse cx="536.77" cy="173.5" rx="2.0" ry="1.8" fill="#0a0a0a"/>
<ellipse cx="538.40" cy="191.3" rx="2.0" ry="1.8" fill="#0a0a0a"/>
<ellipse cx="540.04" cy="175.0" rx="2.0" ry="1.8" fill="#0a0a0a"/>
<ellipse cx="541.68" cy="185.1" rx="2.0" ry="1.8" fill="#0a0a0a"/>
<ellipse cx="543.31" cy="187.8" rx="2.0" ry="1.8" fill="#0a0a0a"/>
<ellipse cx="544.95" cy="190.4" rx="2.0" ry="1.8" fill="#0a0a0a"/>
<ellipse cx="546.59" cy="184.6" rx="2.0" ry="1.8" fill="#0a0a0a"/>
<ellipse cx="548.23" cy="184.8" rx="2.0" ry="1.8" fill="#0a0a0a"/>
<ellipse cx="549.86" cy="178.9" rx="2.0" ry="1.8" fill="#0a0a0a"/>
<ellipse cx="551.50" cy="198.9" rx="2.0" ry="1.8" fill="#0a0a0a"/>
<ellipse cx="553.14" cy="184.6" rx="2.0" ry="1.8" fill="#0a0a0a"/>
<ellipse cx="554.77" cy="177.8" rx="2.0" ry="1.8" fill="#0a0a0a"/>
<ellipse cx="556.41" cy="172.6" rx="2.0" ry="1.8" fill="#0a0a0a"/>
<ellipse cx="558.05" cy="163.7" rx="2.0" ry="1.8" fill="#0a0a0a"/>
<ellipse cx="559.69" cy="182.5" rx="2.0" ry="1.8" fill="#0a0a0a"/>
<ellipse cx="561.32" cy="183.4" rx="2.0" ry="1.8" fill="#0a0a0a"/>
<ellipse cx="562.96" cy="178.1" rx="2.0" ry="1.8" fill="#0a0a0a"/>
<ellipse cx="564.60" cy="187.5" rx="2.0" ry="1.8" fill="#0a0a0a"/>
<ellipse cx="566.23" cy="180.1" rx="2.0" ry="1.8" fill="#0a0a0a"/>
<ellipse cx="567.87" cy="181.6" rx="2.0" ry="1.8" fill="#0a0a0a"/>
<ellipse cx="569.51" cy="167.3" rx="2.0" ry="1.8" fill="#0a0a0a"/>
<ellipse cx="571.15" cy="171.3" rx="2.0" ry="1.8" fill="#0a0a0a"/>
<ellipse cx="572.78" cy="206.4" rx="2.0" ry="1.8" fill="#0a0a0a"/>
<ellipse cx="574.42" cy="187.5" rx="2.0" ry="1.8" fill="#0a0a0a"/>
<ellipse cx="576.06" cy="187.8" rx="2.0" ry="1.8" fill="#0a0a0a"/>
<ellipse cx="577.70" cy="189.2" rx="2.0" ry="1.8" fill="#0a0a0a"/>
<ellipse cx="579.33" cy="191.3" rx="2.0" ry="1.8" fill="#0a0a0a"/>
<ellipse cx="580.97" cy="172.3" rx="2.0" ry="1.8" fill="#0a0a0a"/>
<ellipse cx="582.61" cy="184.0" rx="2.0" ry="1.8" fill="#0a0a0a"/>
<ellipse cx="584.24" cy="162.1" rx="2.0" ry="1.8" fill="#0a0a0a"/>
<ellipse cx="585.88" cy="171.7" rx="2.0" ry="1.8" fill="#0a0a0a"/>
<ellipse cx="587.52" cy="169.9" rx="2.0" ry="1.8" fill="#0a0a0a"/>
<ellipse cx="589.16" cy="185.5" rx="2.0" ry="1.8" fill="#0a0a0a"/>
<ellipse cx="590.79" cy="194.5" rx="2.0" ry="1.8" fill="#0a0a0a"/>
<ellipse cx="592.43" cy="195.7" rx="2.0" ry="1.8" fill="#0a0a0a"/>
<ellipse cx="594.07" cy="199.2" rx="2.0" ry="1.8" fill="#0a0a0a"/>
<ellipse cx="595.70" cy="223.4" rx="2.0" ry="1.8" fill="#0a0a0a"/>
<ellipse cx="597.34" cy="185.1" rx="2.0" ry="1.8" fill="#0a0a0a"/>
<ellipse cx="598.98" cy="184.0" rx="2.0" ry="1.8" fill="#0a0a0a"/>
<ellipse cx="600.62" cy="184.8" rx="2.0" ry="1.8" fill="#0a0a0a"/>
<ellipse cx="602.25" cy="162.1" rx="2.0" ry="1.8" fill="#0a0a0a"/>
<ellipse cx="603.89" cy="187.1" rx="2.0" ry="1.8" fill="#0a0a0a"/>
<ellipse cx="605.53" cy="176.6" rx="2.0" ry="1.8" fill="#0a0a0a"/>
<ellipse cx="607.16" cy="180.8" rx="2.0" ry="1.8" fill="#0a0a0a"/>
<ellipse cx="608.80" cy="178.7" rx="2.0" ry="1.8" fill="#0a0a0a"/>
<ellipse cx="610.44" cy="187.8" rx="2.0" ry="1.8" fill="#0a0a0a"/>
<ellipse cx="612.08" cy="178.9" rx="2.0" ry="1.8" fill="#0a0a0a"/>
<ellipse cx="613.71" cy="175.4" rx="2.0" ry="1.8" fill="#0a0a0a"/>
<ellipse cx="615.35" cy="174.3" rx="2.0" ry="1.8" fill="#0a0a0a"/>
<ellipse cx="616.99" cy="175.2" rx="2.0" ry="1.8" fill="#0a0a0a"/>
<ellipse cx="618.63" cy="199.6" rx="2.0" ry="1.8" fill="#0a0a0a"/>
<ellipse cx="620.26" cy="175.0" rx="2.0" ry="1.8" fill="#0a0a0a"/>
<ellipse cx="621.90" cy="173.8" rx="2.0" ry="1.8" fill="#0a0a0a"/>
<ellipse cx="623.54" cy="175.0" rx="2.0" ry="1.8" fill="#0a0a0a"/>
<ellipse cx="625.17" cy="187.1" rx="2.0" ry="1.8" fill="#0a0a0a"/>
<ellipse cx="626.81" cy="177.0" rx="2.0" ry="1.8" fill="#0a0a0a"/>
<ellipse cx="628.45" cy="177.0" rx="2.0" ry="1.8" fill="#0a0a0a"/>
<ellipse cx="630.09" cy="164.1" rx="2.0" ry="1.8" fill="#0a0a0a"/>
<ellipse cx="631.72" cy="190.6" rx="2.0" ry="1.8" fill="#0a0a0a"/>
<ellipse cx="633.36" cy="179.6" rx="2.0" ry="1.8" fill="#0a0a0a"/>
<ellipse cx="635.00" cy="175.4" rx="2.0" ry="1.8" fill="#0a0a0a"/>
<ellipse cx="636.63" cy="175.4" rx="2.0" ry="1.8" fill="#0a0a0a"/>
<ellipse cx="638.27" cy="186.3" rx="2.0" ry="1.8" fill="#0a0a0a"/>
<ellipse cx="639.91" cy="173.1" rx="2.0" ry="1.8" fill="#0a0a0a"/>
<ellipse cx="641.55" cy="185.1" rx="2.0" ry="1.8" fill="#0a0a0a"/>
<ellipse cx="643.18" cy="193.0" rx="2.0" ry="1.8" fill="#0a0a0a"/>
<ellipse cx="644.82" cy="188.1" rx="2.0" ry="1.8" fill="#0a0a0a"/>
<ellipse cx="646.46" cy="175.4" rx="2.0" ry="1.8" fill="#0a0a0a"/>
<ellipse cx="648.09" cy="190.6" rx="2.0" ry="1.8" fill="#0a0a0a"/>
<ellipse cx="649.73" cy="185.5" rx="2.0" ry="1.8" fill="#0a0a0a"/>
<ellipse cx="651.37" cy="169.4" rx="2.0" ry="1.8" fill="#0a0a0a"/>
<ellipse cx="653.01" cy="178.7" rx="2.0" ry="1.8" fill="#0a0a0a"/>
<ellipse cx="654.64" cy="180.1" rx="2.0" ry="1.8" fill="#0a0a0a"/>
<ellipse cx="656.28" cy="176.4" rx="2.0" ry="1.8" fill="#0a0a0a"/>
<ellipse cx="657.92" cy="175.8" rx="2.0" ry="1.8" fill="#0a0a0a"/>
<ellipse cx="659.56" cy="176.4" rx="2.0" ry="1.8" fill="#0a0a0a"/>
<ellipse cx="661.19" cy="116.4" rx="2.15" ry="1.9" fill="#fa0a0a"/>
<ellipse cx="662.83" cy="185.5" rx="2.0" ry="1.8" fill="#0a0a0a"/>
<ellipse cx="664.47" cy="156.0" rx="2.0" ry="1.8" fill="#0a0a0a"/>
<ellipse cx="666.10" cy="193.9" rx="2.0" ry="1.8" fill="#0a0a0a"/>
<ellipse cx="667.74" cy="184.6" rx="2.0" ry="1.8" fill="#0a0a0a"/>
<ellipse cx="669.38" cy="184.3" rx="2.0" ry="1.8" fill="#0a0a0a"/>
<ellipse cx="671.02" cy="181.6" rx="2.0" ry="1.8" fill="#0a0a0a"/>
<ellipse cx="672.65" cy="185.7" rx="2.0" ry="1.8" fill="#0a0a0a"/>
<line x1="125.8" x2="679.2" y1="160.4" y2="160.4" stroke="#f26464" stroke-width="0.8" stroke-dasharray="2 2"/>
<path d="M125.83 296.70V49.50H682.48V296.70" fill="none" stroke="#2a2a2a" stroke-width="1.3"/>
<line x1="122.23" x2="683.13" y1="296.10" y2="296.10" stroke="#5c5c5c" stroke-width="1.4"/>
<line x1="119.3" x2="125.8" y1="260.61" y2="260.61" stroke="#333" stroke-width="1.2"/>
<text x="54.4" y="264.61" font-size="15.2" fill="#111" stroke="#111" stroke-width="0.3" textLength="61.4" lengthAdjust="spacingAndGlyphs">251.082</text>
<line x1="122.3" x2="125.8" y1="225.42" y2="225.42" stroke="#333" stroke-width="1.2"/>
<line x1="119.3" x2="125.8" y1="190.24" y2="190.24" stroke="#333" stroke-width="1.2"/>
<text x="54.4" y="194.24" font-size="15.2" fill="#111" stroke="#111" stroke-width="0.3" textLength="61.4" lengthAdjust="spacingAndGlyphs">251.084</text>
<line x1="122.3" x2="125.8" y1="155.06" y2="155.06" stroke="#333" stroke-width="1.2"/>
<line x1="119.3" x2="125.8" y1="119.87" y2="119.87" stroke="#333" stroke-width="1.2"/>
<text x="54.4" y="123.87" font-size="15.2" fill="#111" stroke="#111" stroke-width="0.3" textLength="61.4" lengthAdjust="spacingAndGlyphs">251.086</text>
<line x1="122.3" x2="125.8" y1="84.69" y2="84.69" stroke="#333" stroke-width="1.2"/>
<line x1="119.3" x2="125.8" y1="49.50" y2="49.50" stroke="#333" stroke-width="1.2"/>
<text x="54.4" y="53.50" font-size="15.2" fill="#111" stroke="#111" stroke-width="0.3" textLength="61.4" lengthAdjust="spacingAndGlyphs">251.088</text>
<line x1="142.20" x2="142.20" y1="295.8" y2="300.8" stroke="#444" stroke-width="1.2"/>
<text x="137.55" y="315.6" font-size="15.2" fill="#111" stroke="#111" stroke-width="0.3" textLength="9.3" lengthAdjust="spacingAndGlyphs">0</text>
<line x1="183.13" x2="183.13" y1="295.8" y2="298.6" stroke="#444" stroke-width="1.2"/>
<line x1="224.06" x2="224.06" y1="295.8" y2="300.8" stroke="#444" stroke-width="1.2"/>
<text x="214.76" y="315.6" font-size="15.2" fill="#111" stroke="#111" stroke-width="0.3" textLength="18.6" lengthAdjust="spacingAndGlyphs">50</text>
<line x1="264.99" x2="264.99" y1="295.8" y2="298.6" stroke="#444" stroke-width="1.2"/>
<line x1="305.92" x2="305.92" y1="295.8" y2="300.8" stroke="#444" stroke-width="1.2"/>
<text x="291.97" y="315.6" font-size="15.2" fill="#111" stroke="#111" stroke-width="0.3" textLength="27.9" lengthAdjust="spacingAndGlyphs">100</text>
<line x1="346.85" x2="346.85" y1="295.8" y2="298.6" stroke="#444" stroke-width="1.2"/>
<line x1="387.78" x2="387.78" y1="295.8" y2="300.8" stroke="#444" stroke-width="1.2"/>
<text x="373.83" y="315.6" font-size="15.2" fill="#111" stroke="#111" stroke-width="0.3" textLength="27.9" lengthAdjust="spacingAndGlyphs">150</text>
<line x1="428.71" x2="428.71" y1="295.8" y2="298.6" stroke="#444" stroke-width="1.2"/>
<line x1="469.64" x2="469.64" y1="295.8" y2="300.8" stroke="#444" stroke-width="1.2"/>
<text x="455.69" y="315.6" font-size="15.2" fill="#111" stroke="#111" stroke-width="0.3" textLength="27.9" lengthAdjust="spacingAndGlyphs">200</text>
<line x1="510.57" x2="510.57" y1="295.8" y2="298.6" stroke="#444" stroke-width="1.2"/>
<line x1="551.50" x2="551.50" y1="295.8" y2="300.8" stroke="#444" stroke-width="1.2"/>
<text x="537.55" y="315.6" font-size="15.2" fill="#111" stroke="#111" stroke-width="0.3" textLength="27.9" lengthAdjust="spacingAndGlyphs">250</text>
<line x1="592.43" x2="592.43" y1="295.8" y2="298.6" stroke="#444" stroke-width="1.2"/>
<line x1="633.36" x2="633.36" y1="295.8" y2="300.8" stroke="#444" stroke-width="1.2"/>
<text x="619.41" y="315.6" font-size="15.2" fill="#111" stroke="#111" stroke-width="0.3" textLength="27.9" lengthAdjust="spacingAndGlyphs">300</text>
<line x1="674.29" x2="674.29" y1="295.8" y2="298.6" stroke="#444" stroke-width="1.2"/>
<text x="318.6" y="336.9" font-size="20.5" fill="#111" stroke="#111" stroke-width="0.3" textLength="171" lengthAdjust="spacingAndGlyphs">Sample number</text>
<text transform="translate(18.3 302) rotate(-90)" font-size="22.5" fill="#111" stroke="#111" stroke-width="0.3" textLength="257.3" lengthAdjust="spacingAndGlyphs">Measured monoisotopic mass</text>
<text transform="translate(46.8 253.4) rotate(-90)" font-size="22.5" fill="#111" stroke="#111" stroke-width="0.3" textLength="163.4" lengthAdjust="spacingAndGlyphs">of dansyl ammonia</text>
</svg></body></html>
